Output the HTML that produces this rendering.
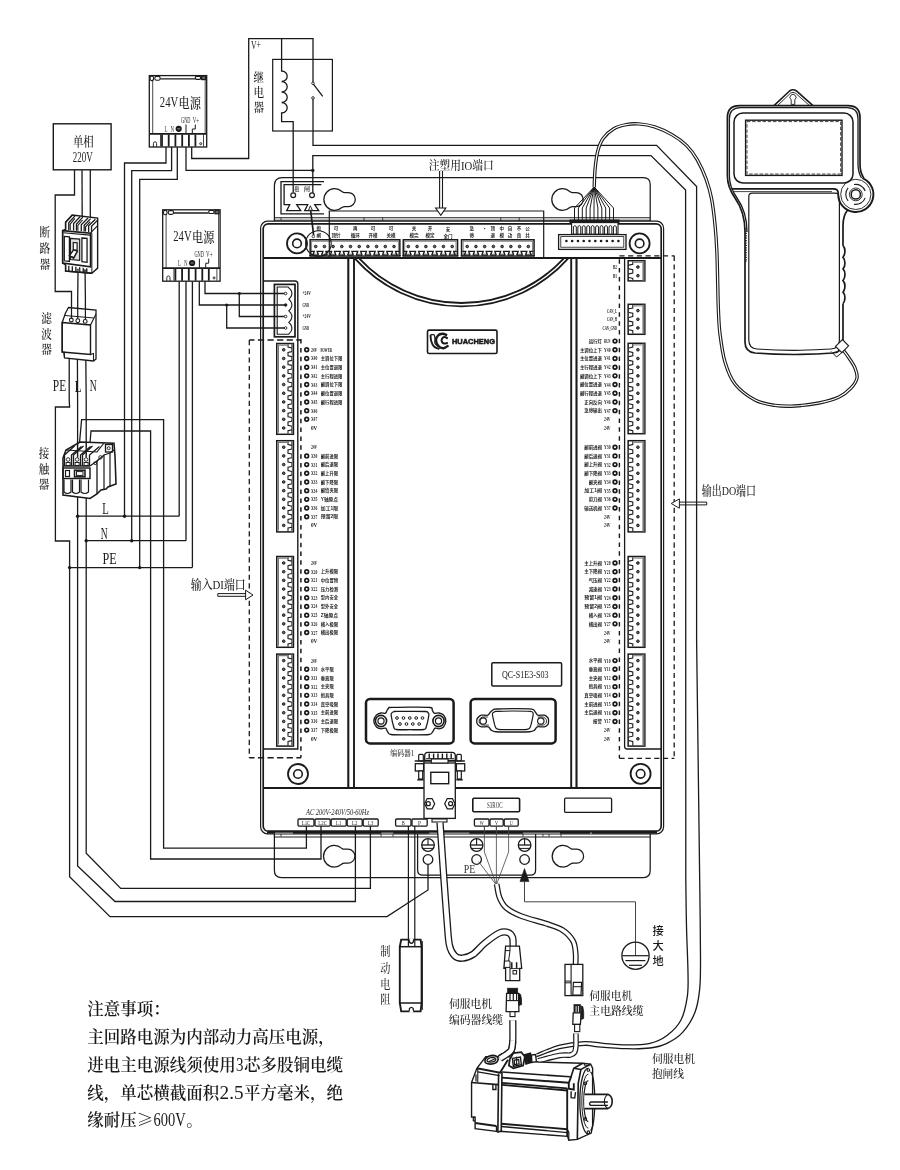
<!DOCTYPE html>
<html lang="zh"><head><meta charset="utf-8"><title>wiring</title>
<style>html,body{margin:0;padding:0;background:#fff}svg{display:block}</style></head>
<body>
<svg width="900" height="1170" viewBox="0 0 900 1170">
<rect width="900" height="1170" fill="#fff"/>
<g style="will-change:transform;filter:blur(0.3px)">
<rect x="53.3" y="123.8" width="57.8" height="46" rx="0" fill="none" stroke="#1a1a1a" stroke-width="1.4" />
<text x="83.3" y="145.9" font-size="12.6" font-family="'Liberation Serif','Noto Serif CJK SC',serif" fill="#1a1a1a" text-anchor="middle" textLength="20.8" lengthAdjust="spacingAndGlyphs" font-weight="500" >单相</text>
<text x="82.8" y="161.5" font-size="13.6" font-family="'Liberation Serif','Noto Serif CJK SC',serif" fill="#1a1a1a" text-anchor="middle" textLength="20" lengthAdjust="spacingAndGlyphs" font-weight="500" >220V</text>
<path d="M74.5 170 L74.5 195 L55.2 195 L55.2 291.5 L71.5 291.5 L71.5 318.5" fill="none" stroke="#1a1a1a" stroke-width="1.3" />
<path d="M82 170 L82.2 217.4" fill="none" stroke="#1a1a1a" stroke-width="1.3" />
<path d="M90.3 170 L90.3 218" fill="none" stroke="#1a1a1a" stroke-width="1.3" />
<path d="M78 271.8 L77.7 300 L77.7 318.5" fill="none" stroke="#1a1a1a" stroke-width="1.3" />
<path d="M85.1 272.4 L85.4 300 L85.4 318.5" fill="none" stroke="#1a1a1a" stroke-width="1.3" />
<path d="M69.2 357 L69.2 400 L69.6 407 L55.4 407 L55.4 541 L69.6 541 L69.6 876.7 L110 916.6 L387 916.6 L428 890 L428 864.6" fill="none" stroke="#1a1a1a" stroke-width="1.3" />
<path d="M77.4 357 L77.6 400 L77.6 866 L115 901.5 L355.4 901.5 L355.4 826" fill="none" stroke="#1a1a1a" stroke-width="1.3" />
<path d="M85.8 357 L86.2 400 L86.2 853.3 L120.7 888.4 L370.4 888.4 L370.4 826" fill="none" stroke="#1a1a1a" stroke-width="1.3" />
<path d="M77.6 516.2 L179.2 516.2" fill="none" stroke="#1a1a1a" stroke-width="1.3" />
<path d="M86.2 540.7 L186 540.7" fill="none" stroke="#1a1a1a" stroke-width="1.3" />
<path d="M69.6 567.6 L192.4 567.6" fill="none" stroke="#1a1a1a" stroke-width="1.3" />
<circle cx="77.6" cy="516.2" r="1.7" fill="#1a1a1a"/>
<circle cx="124.5" cy="516.2" r="1.7" fill="#1a1a1a"/>
<circle cx="86.2" cy="540.7" r="1.7" fill="#1a1a1a"/>
<circle cx="131.7" cy="540.7" r="1.7" fill="#1a1a1a"/>
<circle cx="69.6" cy="567.6" r="1.7" fill="#1a1a1a"/>
<circle cx="139.7" cy="567.6" r="1.7" fill="#1a1a1a"/>
<path d="M166 147 L166 163 L124.5 163 L124.5 516.2" fill="none" stroke="#1a1a1a" stroke-width="1.3" />
<path d="M171.6 147 L171.6 170.6 L131.7 170.6 L131.7 540.7" fill="none" stroke="#1a1a1a" stroke-width="1.3" />
<path d="M177.3 147 L177.3 179.4 L139.7 179.4 L139.7 567.6" fill="none" stroke="#1a1a1a" stroke-width="1.3" />
<path d="M179.2 281.5 L179.2 516.2" fill="none" stroke="#1a1a1a" stroke-width="1.3" />
<path d="M186 281.5 L186 540.7" fill="none" stroke="#1a1a1a" stroke-width="1.3" />
<path d="M192.4 281.5 L192.4 567.6" fill="none" stroke="#1a1a1a" stroke-width="1.3" />
<path d="M79.5 443 L81.6 419.6 L163.6 419.6 L163.6 848.2 L306.4 848.2 L306.4 826" fill="none" stroke="#1a1a1a" stroke-width="1.3" />
<path d="M90 443 L91 431 L150.6 431 L150.6 859 L321 859 L321 826" fill="none" stroke="#1a1a1a" stroke-width="1.3" />
<path d="M186 147 L186 170.4 L312.8 170.4" fill="none" stroke="#1a1a1a" stroke-width="1.3" />
<circle cx="312.8" cy="170.4" r="1.7" fill="#1a1a1a"/>
<path d="M191.7 147 L191.7 158.5 L248.7 158.5 L248.7 38.7 L313 38.7 L313 82" fill="none" stroke="#1a1a1a" stroke-width="1.3" />
<rect x="272.7" y="59.4" width="59.7" height="71.6" rx="0" fill="none" stroke="#1a1a1a" stroke-width="1.2" />
<path d="M281.6 38.7 L281.6 71 A5.6 5.25 0 0 1 281.6 81.5 A5.6 5.25 0 0 1 281.6 92 A5.6 5.25 0 0 1 281.6 102.5 A5.6 5.25 0 0 1 281.6 113 L281.6 121.7 L293.2 121.7 L293.2 192.5" fill="none" stroke="#1a1a1a" stroke-width="1.3" />
<circle cx="313" cy="83.3" r="1.3" fill="#fff" stroke="#1a1a1a" stroke-width="0.9" />
<circle cx="313" cy="98" r="1.3" fill="#fff" stroke="#1a1a1a" stroke-width="0.9" />
<path d="M313.6 84.3 L322.7 96.3" fill="none" stroke="#1a1a1a" stroke-width="1.3" />
<path d="M313 99.3 L313 145.3 L656.6 145.3 L696.6 186.6 L696.6 640 L699.7 880" fill="none" stroke="#1a1a1a" stroke-width="1.3" />
<path d="M699.7 880 C699.83 892.97 700.5 939.65 700.5 957.8 C700.5 975.95 700.62 979.83 699.7 988.9 C698.78 997.97 697.85 1004.95 695 1012.2 C692.15 1019.45 687.27 1027.22 682.6 1032.4 C677.93 1037.58 672.43 1040.7 667 1043.3 C661.57 1045.9 656.72 1047.1 650 1048 C643.28 1048.9 635.78 1048.93 626.7 1048.7 C617.62 1048.47 602.55 1047.17 595.5 1046.6 C588.45 1046.03 590.38 1044.95 584.4 1045.3 C578.42 1045.65 567.6 1046.8 559.6 1048.7 C551.6 1050.6 540.27 1055.37 536.4 1056.7" fill="none" stroke="#1a1a1a" stroke-width="1.3" />
<path d="M312.8 193 L312.8 155.6 L651 155.6 L685.6 190 L685.8 880" fill="none" stroke="#1a1a1a" stroke-width="1.3" />
<path d="M685.8 880 C685.92 887.78 686.13 911.15 686.5 926.7 C686.87 942.25 687.87 961.65 688 973.3 C688.13 984.95 688.47 988.82 687.3 996.6 C686.13 1004.38 684.38 1013.52 681 1020 C677.62 1026.48 672.17 1031.62 667 1035.5 C661.83 1039.38 656.72 1041.73 650 1043.3 C643.28 1044.87 634.48 1044.9 626.7 1044.9 C618.92 1044.9 610.35 1043.85 603.3 1043.3 C596.25 1042.75 591.68 1041.3 584.4 1041.6 C577.12 1041.9 567.6 1043.03 559.6 1045.1 C551.6 1047.17 540.27 1052.52 536.4 1054" fill="none" stroke="#1a1a1a" stroke-width="1.3" />
<text x="251" y="48.9" font-size="12.5" font-family="'Liberation Serif','Noto Serif CJK SC',serif" fill="#1a1a1a" textLength="10" lengthAdjust="spacingAndGlyphs" font-weight="500" >V+</text>
<text x="258.7" y="81.5" font-size="12.3" font-family="'Liberation Serif','Noto Serif CJK SC',serif" fill="#1a1a1a" text-anchor="middle" textLength="10.6" lengthAdjust="spacingAndGlyphs" font-weight="500" >继</text>
<text x="258.7" y="96.8" font-size="12.3" font-family="'Liberation Serif','Noto Serif CJK SC',serif" fill="#1a1a1a" text-anchor="middle" textLength="10.6" lengthAdjust="spacingAndGlyphs" font-weight="500" >电</text>
<text x="258.7" y="112.2" font-size="12.3" font-family="'Liberation Serif','Noto Serif CJK SC',serif" fill="#1a1a1a" text-anchor="middle" textLength="10.6" lengthAdjust="spacingAndGlyphs" font-weight="500" >器</text>
<text x="102.2" y="514.1" font-size="16.2" font-family="'Liberation Serif','Noto Serif CJK SC',serif" fill="#1a1a1a" textLength="6.5" lengthAdjust="spacingAndGlyphs" font-weight="500" >L</text>
<text x="100.8" y="538.8" font-size="16.2" font-family="'Liberation Serif','Noto Serif CJK SC',serif" fill="#1a1a1a" textLength="6.9" lengthAdjust="spacingAndGlyphs" font-weight="500" >N</text>
<text x="102.4" y="564.1" font-size="16.2" font-family="'Liberation Serif','Noto Serif CJK SC',serif" fill="#1a1a1a" textLength="14.2" lengthAdjust="spacingAndGlyphs" font-weight="500" >PE</text>
<text x="52.8" y="390.5" font-size="16.8" font-family="'Liberation Serif','Noto Serif CJK SC',serif" fill="#1a1a1a" textLength="13.4" lengthAdjust="spacingAndGlyphs" font-weight="500" >PE</text>
<text x="74.8" y="392" font-size="16.8" font-family="'Liberation Serif','Noto Serif CJK SC',serif" fill="#1a1a1a" textLength="6.9" lengthAdjust="spacingAndGlyphs" font-weight="500" >L</text>
<text x="89.8" y="390.5" font-size="16.8" font-family="'Liberation Serif','Noto Serif CJK SC',serif" fill="#1a1a1a" textLength="7" lengthAdjust="spacingAndGlyphs" font-weight="500" >N</text>
<text x="44.8" y="236.9" font-size="12.5" font-family="'Liberation Serif','Noto Serif CJK SC',serif" fill="#1a1a1a" text-anchor="middle" textLength="10.7" lengthAdjust="spacingAndGlyphs" font-weight="500" >断</text>
<text x="44.8" y="252.8" font-size="12.5" font-family="'Liberation Serif','Noto Serif CJK SC',serif" fill="#1a1a1a" text-anchor="middle" textLength="10.7" lengthAdjust="spacingAndGlyphs" font-weight="500" >路</text>
<text x="44.8" y="268.5" font-size="12.5" font-family="'Liberation Serif','Noto Serif CJK SC',serif" fill="#1a1a1a" text-anchor="middle" textLength="10.7" lengthAdjust="spacingAndGlyphs" font-weight="500" >器</text>
<text x="46.5" y="322.6" font-size="12.3" font-family="'Liberation Serif','Noto Serif CJK SC',serif" fill="#1a1a1a" text-anchor="middle" textLength="10.7" lengthAdjust="spacingAndGlyphs" font-weight="500" >滤</text>
<text x="46.5" y="338.6" font-size="12.3" font-family="'Liberation Serif','Noto Serif CJK SC',serif" fill="#1a1a1a" text-anchor="middle" textLength="10.7" lengthAdjust="spacingAndGlyphs" font-weight="500" >波</text>
<text x="46.5" y="353.6" font-size="12.3" font-family="'Liberation Serif','Noto Serif CJK SC',serif" fill="#1a1a1a" text-anchor="middle" textLength="10.7" lengthAdjust="spacingAndGlyphs" font-weight="500" >器</text>
<text x="44" y="457.5" font-size="12.5" font-family="'Liberation Serif','Noto Serif CJK SC',serif" fill="#1a1a1a" text-anchor="middle" textLength="10.5" lengthAdjust="spacingAndGlyphs" font-weight="500" >接</text>
<text x="44" y="473.5" font-size="12.5" font-family="'Liberation Serif','Noto Serif CJK SC',serif" fill="#1a1a1a" text-anchor="middle" textLength="10.5" lengthAdjust="spacingAndGlyphs" font-weight="500" >触</text>
<text x="44" y="488.5" font-size="12.5" font-family="'Liberation Serif','Noto Serif CJK SC',serif" fill="#1a1a1a" text-anchor="middle" textLength="10.5" lengthAdjust="spacingAndGlyphs" font-weight="500" >器</text>
<rect x="149.3" y="75.6" width="57.4" height="71.4" rx="0" fill="#fff" stroke="#1a1a1a" stroke-width="1.3" />
<path d="M152.7 79.5 L152.7 133.7" fill="none" stroke="#1a1a1a" stroke-width="0.8" />
<path d="M205.2 79.5 L205.2 133.7" fill="none" stroke="#1a1a1a" stroke-width="0.8" />
<path d="M160.4 78.8 L195 78.8" fill="none" stroke="#1a1a1a" stroke-width="1.3" />
<rect x="150.1" y="76.2" width="3.5" height="4.4" rx="1.5" fill="none" stroke="#1a1a1a" stroke-width="1.1" />
<rect x="154.8" y="76.4" width="5.4" height="3.8" rx="1.8" fill="none" stroke="#1a1a1a" stroke-width="1.1" />
<rect x="195.4" y="76.3" width="5.2" height="3" rx="1" fill="none" stroke="#1a1a1a" stroke-width="1.2" />
<rect x="201.6" y="76" width="4" height="3.6" rx="0" fill="#666" stroke="#1a1a1a" stroke-width="1.2" />
<path d="M149.3 133.9 L206.7 133.9" fill="none" stroke="#1a1a1a" stroke-width="1.6" />
<path d="M162 134.5 L162 146.5" fill="none" stroke="#1a1a1a" stroke-width="1.8" />
<path d="M168.7 134.5 L168.7 146.5" fill="none" stroke="#1a1a1a" stroke-width="1.8" />
<path d="M175.4 134.5 L175.4 146.5" fill="none" stroke="#1a1a1a" stroke-width="1.8" />
<path d="M182.2 134.5 L182.2 146.5" fill="none" stroke="#1a1a1a" stroke-width="1.8" />
<path d="M188.9 134.5 L188.9 146.5" fill="none" stroke="#1a1a1a" stroke-width="1.8" />
<path d="M195.4 134.5 L195.4 146.5" fill="none" stroke="#1a1a1a" stroke-width="1.8" />
<path d="M160.5 134.5 L160.5 146.5" fill="none" stroke="#1a1a1a" stroke-width="0.8" />
<path d="M203.5 134.5 L203.5 146.5" fill="none" stroke="#1a1a1a" stroke-width="0.8" />
<path d="M153.4 147 L153.4 143.4 a1.6 1.6 0 0 1 3.2 0 L156.6 147" fill="none" stroke="#1a1a1a" stroke-width="0.9" />
<circle cx="200.7" cy="143.7" r="1" fill="none" stroke="#1a1a1a" stroke-width="0.9" />
<text x="159.8" y="107" font-size="15.2" font-family="'Liberation Serif','Noto Serif CJK SC',serif" fill="#1a1a1a" textLength="18.4" lengthAdjust="spacingAndGlyphs" font-weight="500" >24V</text>
<text x="178.6" y="107.6" font-size="13.8" font-family="'Liberation Serif','Noto Serif CJK SC',serif" fill="#1a1a1a" textLength="22.4" lengthAdjust="spacingAndGlyphs" font-weight="500" >电源</text>
<text x="164.6" y="131.7" font-size="8" font-family="'Liberation Serif','Noto Serif CJK SC',serif" fill="#333" textLength="3" lengthAdjust="spacingAndGlyphs" font-weight="400" >L</text>
<text x="170.6" y="131.7" font-size="8" font-family="'Liberation Serif','Noto Serif CJK SC',serif" fill="#333" textLength="3.6" lengthAdjust="spacingAndGlyphs" font-weight="400" >N</text>
<circle cx="178.7" cy="128.8" r="3.1" fill="#1a1a1a" stroke="#1a1a1a" stroke-width="0" />
<path d="M177.2 128.8 L180.2 128.8" fill="none" stroke="#fff" stroke-width="0.5" />
<text x="181" y="123" font-size="8" font-family="'Liberation Serif','Noto Serif CJK SC',serif" fill="#1a1a1a" textLength="9.4" lengthAdjust="spacingAndGlyphs" >GND</text>
<text x="192.7" y="123" font-size="8" font-family="'Liberation Serif','Noto Serif CJK SC',serif" fill="#1a1a1a" textLength="6.4" lengthAdjust="spacingAndGlyphs" >V+</text>
<path d="M186 124.5 L186 133.7" fill="none" stroke="#1a1a1a" stroke-width="1" />
<path d="M195.3 124.5 L195.3 129 L192.3 129 L192.3 133.7" fill="none" stroke="#1a1a1a" stroke-width="1" />
<rect x="162.7" y="209.8" width="57.4" height="71.4" rx="0" fill="#fff" stroke="#1a1a1a" stroke-width="1.3" />
<path d="M166.1 213.7 L166.1 267.9" fill="none" stroke="#1a1a1a" stroke-width="0.8" />
<path d="M218.6 213.7 L218.6 267.9" fill="none" stroke="#1a1a1a" stroke-width="0.8" />
<path d="M173.8 213 L208.4 213" fill="none" stroke="#1a1a1a" stroke-width="1.3" />
<rect x="163.5" y="210.4" width="3.5" height="4.4" rx="1.5" fill="none" stroke="#1a1a1a" stroke-width="1.1" />
<rect x="168.2" y="210.6" width="5.4" height="3.8" rx="1.8" fill="none" stroke="#1a1a1a" stroke-width="1.1" />
<rect x="208.8" y="210.5" width="5.2" height="3" rx="1" fill="none" stroke="#1a1a1a" stroke-width="1.2" />
<rect x="215" y="210.2" width="4" height="3.6" rx="0" fill="#666" stroke="#1a1a1a" stroke-width="1.2" />
<path d="M162.7 268.1 L220.1 268.1" fill="none" stroke="#1a1a1a" stroke-width="1.6" />
<path d="M175.4 268.7 L175.4 280.7" fill="none" stroke="#1a1a1a" stroke-width="1.8" />
<path d="M182.1 268.7 L182.1 280.7" fill="none" stroke="#1a1a1a" stroke-width="1.8" />
<path d="M188.8 268.7 L188.8 280.7" fill="none" stroke="#1a1a1a" stroke-width="1.8" />
<path d="M195.6 268.7 L195.6 280.7" fill="none" stroke="#1a1a1a" stroke-width="1.8" />
<path d="M202.3 268.7 L202.3 280.7" fill="none" stroke="#1a1a1a" stroke-width="1.8" />
<path d="M208.8 268.7 L208.8 280.7" fill="none" stroke="#1a1a1a" stroke-width="1.8" />
<path d="M173.9 268.7 L173.9 280.7" fill="none" stroke="#1a1a1a" stroke-width="0.8" />
<path d="M216.9 268.7 L216.9 280.7" fill="none" stroke="#1a1a1a" stroke-width="0.8" />
<path d="M166.8 281.2 L166.8 277.6 a1.6 1.6 0 0 1 3.2 0 L170 281.2" fill="none" stroke="#1a1a1a" stroke-width="0.9" />
<circle cx="214.1" cy="277.9" r="1" fill="none" stroke="#1a1a1a" stroke-width="0.9" />
<text x="173.2" y="241.2" font-size="15.2" font-family="'Liberation Serif','Noto Serif CJK SC',serif" fill="#1a1a1a" textLength="18.4" lengthAdjust="spacingAndGlyphs" font-weight="500" >24V</text>
<text x="192" y="241.8" font-size="13.8" font-family="'Liberation Serif','Noto Serif CJK SC',serif" fill="#1a1a1a" textLength="22.4" lengthAdjust="spacingAndGlyphs" font-weight="500" >电源</text>
<text x="178" y="265.9" font-size="8" font-family="'Liberation Serif','Noto Serif CJK SC',serif" fill="#333" textLength="3" lengthAdjust="spacingAndGlyphs" font-weight="400" >L</text>
<text x="184" y="265.9" font-size="8" font-family="'Liberation Serif','Noto Serif CJK SC',serif" fill="#333" textLength="3.6" lengthAdjust="spacingAndGlyphs" font-weight="400" >N</text>
<circle cx="192.1" cy="263" r="3.1" fill="#1a1a1a" stroke="#1a1a1a" stroke-width="0" />
<path d="M190.6 263 L193.6 263" fill="none" stroke="#fff" stroke-width="0.5" />
<text x="194.4" y="257.2" font-size="8" font-family="'Liberation Serif','Noto Serif CJK SC',serif" fill="#1a1a1a" textLength="9.4" lengthAdjust="spacingAndGlyphs" >GND</text>
<text x="206.1" y="257.2" font-size="8" font-family="'Liberation Serif','Noto Serif CJK SC',serif" fill="#1a1a1a" textLength="6.4" lengthAdjust="spacingAndGlyphs" >V+</text>
<path d="M199.4 258.7 L199.4 267.9" fill="none" stroke="#1a1a1a" stroke-width="1" />
<path d="M208.7 258.7 L208.7 263.2 L205.7 263.2 L205.7 267.9" fill="none" stroke="#1a1a1a" stroke-width="1" />
<path d="M62.69 230.64 L65.58 229.36 L65.58 222.31 L72.31 214.94 L97.63 218.14 L97.63 268.14 L91.86 273.27 L65.58 271.03 L65.58 264.94 L62.69 263.01 Z" fill="#fff" stroke="#1a1a1a" stroke-width="1.4" />
<path d="M65.58 229.68 L65.58 222.31 L72.31 214.94" fill="none" stroke="#1a1a1a" stroke-width="1.3" />
<path d="M68.78 229.94 L68.78 222.69 L75.19 215.58" fill="none" stroke="#1a1a1a" stroke-width="1.3" />
<path d="M70.19 229.94 L70.19 224.23 L74.87 218.46" fill="none" stroke="#1a1a1a" stroke-width="1.1" />
<path d="M73.59 230.45 L73.59 223.59 L80.32 216.47" fill="none" stroke="#1a1a1a" stroke-width="1.3" />
<path d="M76.47 230.71 L76.47 223.97 L82.88 217.12" fill="none" stroke="#1a1a1a" stroke-width="1.3" />
<path d="M77.88 230.71 L77.88 225.51 L82.56 220" fill="none" stroke="#1a1a1a" stroke-width="1.1" />
<path d="M81.28 231.22 L81.28 224.87 L88.01 218.01" fill="none" stroke="#1a1a1a" stroke-width="1.3" />
<path d="M84.17 231.47 L84.17 225.26 L90.58 218.65" fill="none" stroke="#1a1a1a" stroke-width="1.3" />
<path d="M85.58 231.47 L85.58 226.79 L90.26 221.54" fill="none" stroke="#1a1a1a" stroke-width="1.1" />
<path d="M88.65 231.99 L88.65 225.83 L95.38 219.23" fill="none" stroke="#1a1a1a" stroke-width="1.3" />
<path d="M91.54 232.24 L91.54 226.22 L97.95 219.87" fill="none" stroke="#1a1a1a" stroke-width="1.3" />
<path d="M91.54 231.92 L97.63 225.51" fill="none" stroke="#1a1a1a" stroke-width="1.1" />
<path d="M91.86 233.21 L91.86 272.95" fill="none" stroke="#1a1a1a" stroke-width="1" />
<path d="M62.69 230.64 L90.58 233.21 L90.58 266.86 L62.69 263.01 Z" fill="#fff" stroke="#1a1a1a" stroke-width="1.7" />
<path d="M63.33 232.69 L90.13 235.13" fill="none" stroke="#1a1a1a" stroke-width="1.1" />
<path d="M90.58 233.21 L91.86 231.92" fill="none" stroke="#1a1a1a" stroke-width="1.1" />
<path d="M64.29 236.41 L69.42 236.86 L69.42 261.41 L64.29 260.77 Z" fill="none" stroke="#1a1a1a" stroke-width="1.3" />
<path d="M81.92 238.01 L87.05 238.46 L87.05 262.37 L81.92 261.73 Z" fill="none" stroke="#1a1a1a" stroke-width="1.3" />
<path d="M70.38 238.33 L79.68 239.17 L79.68 260.45 L70.38 259.49 Z" fill="#ddd" stroke="#1a1a1a" stroke-width="1.2" />
<path d="M73.27 242.5 L77.12 242.82 L77.12 250.19 L73.27 249.87 Z" fill="#fff" stroke="#1a1a1a" stroke-width="1.2" />
<path d="M69.42 255.64 L73.59 249.87 L77.44 251.15 L73.59 258.21 Z" fill="#fff" stroke="#1a1a1a" stroke-width="1.5" />
<path d="M70.38 256.28 L74.23 257.44" fill="none" stroke="#1a1a1a" stroke-width="0.9" />
<path d="M65.58 264.94 L65.58 271.03 L91.86 273.27" fill="none" stroke="#1a1a1a" stroke-width="1.3" />
<path d="M68.78 265.79 L68.78 271.3" fill="none" stroke="#1a1a1a" stroke-width="1.3" />
<path d="M72.31 266.28 L72.31 271.6" fill="none" stroke="#1a1a1a" stroke-width="1.3" />
<path d="M75.83 266.78 L75.83 271.9" fill="none" stroke="#1a1a1a" stroke-width="1.3" />
<path d="M79.68 267.31 L79.68 272.22" fill="none" stroke="#1a1a1a" stroke-width="1.3" />
<path d="M83.21 267.81 L83.21 272.52" fill="none" stroke="#1a1a1a" stroke-width="1.3" />
<path d="M86.73 268.3 L86.73 272.82" fill="none" stroke="#1a1a1a" stroke-width="1.3" />
<path d="M77.12 269.1 L79.68 269.36 L79.68 271.67 L77.12 271.41 Z" fill="#888" stroke="#1a1a1a" stroke-width="0.6" />
<path d="M84.17 269.74 L86.73 270 L86.73 272.44 L84.17 272.18 Z" fill="#555" stroke="#1a1a1a" stroke-width="0.6" />
<path d="M62.2 322.5 L65.5 313 L68.5 307.5 L96 310 L96 359 L93.5 361 L64.5 357.8 L64 352.2 L62.2 352 Z" fill="#fff" stroke="#1a1a1a" stroke-width="1.3" />
<path d="M65 315.5 L94 318 L96 314" fill="none" stroke="#1a1a1a" stroke-width="1.1" />
<path d="M62.2 322.5 L90.5 325 L90.5 354.5 L62.2 352 Z" fill="none" stroke="#1a1a1a" stroke-width="1.4" />
<path d="M90.5 325 L94 318" fill="none" stroke="#1a1a1a" stroke-width="1.1" />
<path d="M64 352.2 L64.5 357.6" fill="none" stroke="#1a1a1a" stroke-width="1.1" />
<path d="M90.5 354.5 L93.5 353.5 L93.5 361" fill="none" stroke="#1a1a1a" stroke-width="1.1" />
<circle cx="71.3" cy="320" r="1.9" fill="#fff" stroke="#1a1a1a" stroke-width="1.1" />
<circle cx="77.8" cy="320.7" r="1.9" fill="#fff" stroke="#1a1a1a" stroke-width="1.1" />
<circle cx="85.2" cy="321.4" r="1.9" fill="#fff" stroke="#1a1a1a" stroke-width="1.1" />
<path d="M71.5 308 L71.5 318.2" fill="none" stroke="#1a1a1a" stroke-width="1.2" />
<path d="M77.7 308.5 L77.7 318.9" fill="none" stroke="#1a1a1a" stroke-width="1.2" />
<path d="M85.4 309.2 L85.4 319.6" fill="none" stroke="#1a1a1a" stroke-width="1.2" />
<path d="M63 458 L66 450 L80 442 L114 443.2 L115 456 L116 484 L108 487 L106 489 L101 490 L97 494 L90 498.5 L63 495 Z" fill="#fff" stroke="#1a1a1a" stroke-width="1.56" />
<rect x="63" y="468" width="27" height="10.5" rx="0" fill="none" stroke="#1a1a1a" stroke-width="1.44" />
<path d="M63 466 L90 466" fill="none" stroke="#1a1a1a" stroke-width="1.44" />
<rect x="65.5" y="470.5" width="4" height="6" rx="0" fill="none" stroke="#1a1a1a" stroke-width="1.2" />
<rect x="74.5" y="470.2" width="10.5" height="6.6" rx="0" fill="none" stroke="#1a1a1a" stroke-width="1.56" />
<rect x="76.5" y="471.6" width="6.5" height="3.8" rx="0" fill="none" stroke="#1a1a1a" stroke-width="0.96" />
<path d="M64 479.5 L64 492 Q67.5 495 71 492 L71 479.5" fill="none" stroke="#1a1a1a" stroke-width="1.2" />
<path d="M72.5 479.5 L72.5 492 Q76 495 79.5 492 L79.5 479.5" fill="none" stroke="#1a1a1a" stroke-width="1.2" />
<path d="M81 479.5 L81 492 Q84.75 495 88.5 492 L88.5 479.5" fill="none" stroke="#1a1a1a" stroke-width="1.2" />
<path d="M64.5 466 L64.5 455 L74.5 446" fill="none" stroke="#1a1a1a" stroke-width="1.32" />
<path d="M71.5 466 L71.5 455 L81.5 446.5" fill="none" stroke="#1a1a1a" stroke-width="1.32" />
<circle cx="68.1" cy="459.5" r="1.8" fill="none" stroke="#1a1a1a" stroke-width="0.9" />
<rect x="66.1" y="462.5" width="4" height="3" rx="0" fill="none" stroke="#1a1a1a" stroke-width="0.96" />
<path d="M73.5 466 L73.5 455 L83.5 446" fill="none" stroke="#1a1a1a" stroke-width="1.32" />
<path d="M80.5 466 L80.5 455 L90.5 446.5" fill="none" stroke="#1a1a1a" stroke-width="1.32" />
<circle cx="77.1" cy="459.5" r="1.8" fill="none" stroke="#1a1a1a" stroke-width="0.9" />
<rect x="75.1" y="462.5" width="4" height="3" rx="0" fill="none" stroke="#1a1a1a" stroke-width="0.96" />
<path d="M82.5 466 L82.5 455 L92.5 446" fill="none" stroke="#1a1a1a" stroke-width="1.32" />
<path d="M89.5 466 L89.5 455 L99.5 446.5" fill="none" stroke="#1a1a1a" stroke-width="1.32" />
<circle cx="86.1" cy="459.5" r="1.8" fill="none" stroke="#1a1a1a" stroke-width="0.9" />
<rect x="84.1" y="462.5" width="4" height="3" rx="0" fill="none" stroke="#1a1a1a" stroke-width="0.96" />
<path d="M66 450 L97 452 L104 443" fill="none" stroke="#1a1a1a" stroke-width="1.2" />
<path d="M90 466 L97 461 L97 494" fill="none" stroke="#1a1a1a" stroke-width="1.32" />
<path d="M97 461 L104 455 L104 489" fill="none" stroke="#1a1a1a" stroke-width="1.2" />
<path d="M104 455 L110 453 L114 450" fill="none" stroke="#1a1a1a" stroke-width="1.2" />
<path d="M110 453 L110 486.5" fill="none" stroke="#1a1a1a" stroke-width="1.2" />
<rect x="105.5" y="444.5" width="7" height="7.5" rx="0" fill="none" stroke="#1a1a1a" stroke-width="1.32" />
<circle cx="108.7" cy="448.2" r="1.5" fill="none" stroke="#1a1a1a" stroke-width="0.9" />
<circle cx="100.5" cy="457.3" r="1.7" fill="none" stroke="#1a1a1a" stroke-width="0.9" />
<circle cx="95.2" cy="463.2" r="1.4" fill="none" stroke="#1a1a1a" stroke-width="0.9" />
<path d="M96.2 462.2 L99.3 458.5" fill="none" stroke="#1a1a1a" stroke-width="1.08" />
<path d="M77.6 441.5 L77.6 457.5" fill="none" stroke="#1a1a1a" stroke-width="1.44" />
<path d="M86.2 442 L86.2 457.5" fill="none" stroke="#1a1a1a" stroke-width="1.44" />
<path d="M274.4 222 L274.4 185.5 Q274.4 177.6 282.4 177.6 L643.4 177.6 Q650.2 177.6 650.2 184.6 L650.2 221" fill="none" stroke="#1a1a1a" stroke-width="1.25" />
<path d="M274.4 833 L274.4 870.5 Q274.4 877.6 281.5 877.6 L643.4 877.6 Q650.2 877.6 650.2 870.5 L650.2 833" fill="none" stroke="#1a1a1a" stroke-width="1.25" />
<path d="M341.9 191.45 A10.8 10.8 0 1 0 341.9 207.55 Q343.3 206.5 344.9 206.5 L348.3 206.5 A7 7 0 0 0 348.3 192.5 L344.9 192.5 Q343.3 192.5 341.9 191.45 Z" fill="#fff" stroke="#1a1a1a" stroke-width="1.25" />
<path d="M569.8 191.45 A10.8 10.8 0 1 0 569.8 207.55 Q571.2 206.5 572.8 206.5 L576.2 206.5 A7 7 0 0 0 576.2 192.5 L572.8 192.5 Q571.2 192.5 569.8 191.45 Z" fill="#fff" stroke="#1a1a1a" stroke-width="1.25" />
<path d="M341.5 848.15 A10.8 10.8 0 1 0 341.5 864.25 Q342.9 863.2 344.5 863.2 L347.9 863.2 A7 7 0 0 0 347.9 849.2 L344.5 849.2 Q342.9 849.2 341.5 848.15 Z" fill="#fff" stroke="#1a1a1a" stroke-width="1.25" />
<path d="M570.2 848.15 A10.8 10.8 0 1 0 570.2 864.25 Q571.6 863.2 573.2 863.2 L576.6 863.2 A7 7 0 0 0 576.6 849.2 L573.2 849.2 Q571.6 849.2 570.2 848.15 Z" fill="#fff" stroke="#1a1a1a" stroke-width="1.25" />
<path d="M324 181.6 L281 181.6 L281 213.8 L324 213.8" fill="none" stroke="#1a1a1a" stroke-width="1.3" />
<path d="M321.4 184.7 L284.1 184.7 L284.1 204.7 L289.7 204.7 L286.7 210.7 L300.7 210.7 L296.7 204.7 L307.7 204.7 L304.7 210.7 L318.7 210.7 L314.7 204.7 L321.4 204.7" fill="none" stroke="#1a1a1a" stroke-width="1.3" />
<circle cx="293.2" cy="195.2" r="2.4" fill="#fff" stroke="#1a1a1a" stroke-width="1.2" />
<circle cx="312" cy="195.2" r="2.4" fill="#fff" stroke="#1a1a1a" stroke-width="1.2" />
<text x="294.2" y="191.4" font-size="6.2" font-family="'Liberation Serif','Noto Serif CJK SC',serif" fill="#222" textLength="5" lengthAdjust="spacingAndGlyphs" font-weight="600" >抱</text>
<text x="304" y="191.4" font-size="6.2" font-family="'Liberation Serif','Noto Serif CJK SC',serif" fill="#222" textLength="6" lengthAdjust="spacingAndGlyphs" font-weight="600" >闸</text>
<path d="M274.4 220.2 L650.2 220.2" fill="none" stroke="#1a1a1a" stroke-width="0.9" />
<path d="M281 217.8 L281 220.3" fill="none" stroke="#1a1a1a" stroke-width="0.8" />
<path d="M417.6 834 L417.6 870 Q417.6 875.2 423 875.2 L530.4 875.2 Q535.6 875.2 535.6 870 L535.6 834" fill="none" stroke="#1a1a1a" stroke-width="1.25" />
<circle cx="428" cy="845" r="6.3" fill="#fff" stroke="#1a1a1a" stroke-width="1.3" />
<path d="M421.8 845 L434.2 845" fill="none" stroke="#1a1a1a" stroke-width="1.3" />
<path d="M422.6 848.4 L433.4 848.4" fill="none" stroke="#1a1a1a" stroke-width="1" />
<path d="M428 838.8 L428 845" fill="none" stroke="#1a1a1a" stroke-width="1.1" />
<circle cx="428" cy="859.5" r="4.8" fill="#fff" stroke="#1a1a1a" stroke-width="1.3" />
<circle cx="476.6" cy="845" r="6.3" fill="#fff" stroke="#1a1a1a" stroke-width="1.3" />
<path d="M470.4 845 L482.8 845" fill="none" stroke="#1a1a1a" stroke-width="1.3" />
<path d="M471.2 848.4 L482 848.4" fill="none" stroke="#1a1a1a" stroke-width="1" />
<path d="M476.6 838.8 L476.6 845" fill="none" stroke="#1a1a1a" stroke-width="1.1" />
<circle cx="476.6" cy="859.5" r="4.8" fill="#fff" stroke="#1a1a1a" stroke-width="1.3" />
<circle cx="524.6" cy="845" r="6.3" fill="#fff" stroke="#1a1a1a" stroke-width="1.3" />
<path d="M518.4 845 L530.8 845" fill="none" stroke="#1a1a1a" stroke-width="1.3" />
<path d="M519.2 848.4 L530 848.4" fill="none" stroke="#1a1a1a" stroke-width="1" />
<path d="M524.6 838.8 L524.6 845" fill="none" stroke="#1a1a1a" stroke-width="1.1" />
<circle cx="524.6" cy="859.5" r="4.8" fill="#fff" stroke="#1a1a1a" stroke-width="1.3" />
<text x="463.8" y="873.2" font-size="12.5" font-family="'Liberation Serif','Noto Serif CJK SC',serif" fill="#333" textLength="11.5" lengthAdjust="spacingAndGlyphs" font-weight="500" >PE</text>
<rect x="260.6" y="221.2" width="403" height="612.6" rx="7" fill="#fff" stroke="#1a1a1a" stroke-width="1.2" />
<rect x="263.2" y="223.8" width="398" height="607.4" rx="5" fill="none" stroke="#1a1a1a" stroke-width="1.7" />
<path d="M267 832.6 L657 832.6" fill="none" stroke="#1a1a1a" stroke-width="1.6" />
<path d="M275 833.1 L293 833.1" fill="none" stroke="#fff" stroke-width="0.7" />
<path d="M381.3 833.1 L393.3 833.1" fill="none" stroke="#fff" stroke-width="0.7" />
<path d="M429.3 833.1 L469.3 833.1" fill="none" stroke="#fff" stroke-width="0.7" />
<path d="M523 833.1 L560 833.1" fill="none" stroke="#fff" stroke-width="0.7" />
<path d="M590 833.1 L592 833.1" fill="none" stroke="#fff" stroke-width="0.7" />
<path d="M274.4 217.8 L650.2 217.8" fill="none" stroke="#1a1a1a" stroke-width="1.1" />
<path d="M364 217.6 L364 221" fill="none" stroke="#1a1a1a" stroke-width="0.8" />
<path d="M382.7 217.6 L382.7 221" fill="none" stroke="#1a1a1a" stroke-width="0.8" />
<path d="M500.8 217.6 L500.8 221" fill="none" stroke="#1a1a1a" stroke-width="0.8" />
<path d="M519.2 217.6 L519.2 221" fill="none" stroke="#1a1a1a" stroke-width="0.8" />
<path d="M274.4 837 L650.2 837" fill="none" stroke="#1a1a1a" stroke-width="1" />
<path d="M274.4 834 L274.4 836.6" fill="none" stroke="#1a1a1a" stroke-width="0.8" />
<path d="M281 834 L281 836.6" fill="none" stroke="#1a1a1a" stroke-width="0.8" />
<path d="M381 834 L381 836.6" fill="none" stroke="#1a1a1a" stroke-width="0.8" />
<path d="M393 834 L393 836.6" fill="none" stroke="#1a1a1a" stroke-width="0.8" />
<path d="M523 834 L523 836.6" fill="none" stroke="#1a1a1a" stroke-width="0.8" />
<path d="M561 834 L561 836.6" fill="none" stroke="#1a1a1a" stroke-width="0.8" />
<path d="M543 834 L543 836.6" fill="none" stroke="#1a1a1a" stroke-width="0.8" />
<path d="M549 834 L549 836.6" fill="none" stroke="#1a1a1a" stroke-width="0.8" />
<path d="M263.2 258 L661.2 258" fill="none" stroke="#1a1a1a" stroke-width="1.8" />
<path d="M263.2 788 L661.2 788" fill="none" stroke="#1a1a1a" stroke-width="1.8" />
<path d="M348.3 258 L348.3 788" fill="none" stroke="#1a1a1a" stroke-width="2.1" />
<path d="M354 258 L354 788" fill="none" stroke="#1a1a1a" stroke-width="1.9" />
<path d="M571.2 258 L571.2 788" fill="none" stroke="#1a1a1a" stroke-width="1.9" />
<path d="M576.5 258 L576.5 788" fill="none" stroke="#1a1a1a" stroke-width="2.1" />
<path d="M355 258.6 A142.5 142.5 0 0 0 568 258.6" fill="none" stroke="#1a1a1a" stroke-width="1.8" />
<path d="M359.4 258.6 A139.6 139.6 0 0 0 563.6 258.6" fill="none" stroke="#1a1a1a" stroke-width="1.8" />
<circle cx="297" cy="243.4" r="10" fill="#fff" stroke="#1a1a1a" stroke-width="1.8" />
<circle cx="297" cy="243.4" r="4.3" fill="none" stroke="#1a1a1a" stroke-width="1.6" />
<circle cx="639.6" cy="243.4" r="10" fill="#fff" stroke="#1a1a1a" stroke-width="1.8" />
<circle cx="639.6" cy="243.4" r="4.3" fill="none" stroke="#1a1a1a" stroke-width="1.6" />
<circle cx="298" cy="774" r="10" fill="#fff" stroke="#1a1a1a" stroke-width="1.8" />
<circle cx="298" cy="774" r="4.3" fill="none" stroke="#1a1a1a" stroke-width="1.6" />
<circle cx="640.6" cy="773.8" r="10" fill="#fff" stroke="#1a1a1a" stroke-width="1.8" />
<circle cx="640.6" cy="773.8" r="4.3" fill="none" stroke="#1a1a1a" stroke-width="1.6" />
<rect x="310.15" y="239.75" width="89.7" height="16.05" rx="0" fill="#fff" stroke="#1a1a1a" stroke-width="1.5" />
<rect x="311.7" y="241.2" width="86.6" height="14" rx="0" fill="none" stroke="#555" stroke-width="0.7" />
<path d="M309.4 255.85 L400.6 255.85" fill="none" stroke="#1a1a1a" stroke-width="1.5" />
<path d="M310.9 254.5 L399.1 254.5" fill="none" stroke="#777" stroke-width="1.4" />
<circle cx="315.7" cy="246.5" r="1.3" fill="#666" stroke="#1a1a1a" stroke-width="1" />
<circle cx="324.4" cy="246.5" r="1.3" fill="#666" stroke="#1a1a1a" stroke-width="1" />
<circle cx="333.1" cy="246.5" r="1.3" fill="#666" stroke="#1a1a1a" stroke-width="1" />
<circle cx="341.8" cy="246.5" r="1.3" fill="#666" stroke="#1a1a1a" stroke-width="1" />
<circle cx="350.5" cy="246.5" r="1.3" fill="#666" stroke="#1a1a1a" stroke-width="1" />
<circle cx="359.2" cy="246.5" r="1.3" fill="#666" stroke="#1a1a1a" stroke-width="1" />
<circle cx="367.9" cy="246.5" r="1.3" fill="#666" stroke="#1a1a1a" stroke-width="1" />
<circle cx="376.6" cy="246.5" r="1.3" fill="#666" stroke="#1a1a1a" stroke-width="1" />
<circle cx="385.3" cy="246.5" r="1.3" fill="#666" stroke="#1a1a1a" stroke-width="1" />
<circle cx="394" cy="246.5" r="1.3" fill="#666" stroke="#1a1a1a" stroke-width="1" />
<path d="M310.9 251.4 L314.2 251.4 L312.85 255.3" fill="none" stroke="#1a1a1a" stroke-width="1.4" />
<path d="M318.55 255.3 L317.2 251.4 L322.9 251.4 L321.55 255.3" fill="#fff" stroke="#1a1a1a" stroke-width="1.4" />
<path d="M327.25 255.3 L325.9 251.4 L331.6 251.4 L330.25 255.3" fill="#fff" stroke="#1a1a1a" stroke-width="1.4" />
<path d="M335.95 255.3 L334.6 251.4 L340.3 251.4 L338.95 255.3" fill="#fff" stroke="#1a1a1a" stroke-width="1.4" />
<path d="M344.65 255.3 L343.3 251.4 L349 251.4 L347.65 255.3" fill="#fff" stroke="#1a1a1a" stroke-width="1.4" />
<path d="M353.35 255.3 L352 251.4 L357.7 251.4 L356.35 255.3" fill="#fff" stroke="#1a1a1a" stroke-width="1.4" />
<path d="M362.05 255.3 L360.7 251.4 L366.4 251.4 L365.05 255.3" fill="#fff" stroke="#1a1a1a" stroke-width="1.4" />
<path d="M370.75 255.3 L369.4 251.4 L375.1 251.4 L373.75 255.3" fill="#fff" stroke="#1a1a1a" stroke-width="1.4" />
<path d="M379.45 255.3 L378.1 251.4 L383.8 251.4 L382.45 255.3" fill="#fff" stroke="#1a1a1a" stroke-width="1.4" />
<path d="M388.15 255.3 L386.8 251.4 L392.5 251.4 L391.15 255.3" fill="#fff" stroke="#1a1a1a" stroke-width="1.4" />
<path d="M396.85 255.3 L395.5 251.4 L399.1 251.4" fill="none" stroke="#1a1a1a" stroke-width="1.4" />
<rect x="403.25" y="239.75" width="54.3" height="16.05" rx="0" fill="#fff" stroke="#1a1a1a" stroke-width="1.5" />
<rect x="404.8" y="241.2" width="51.2" height="14" rx="0" fill="none" stroke="#555" stroke-width="0.7" />
<path d="M402.5 255.85 L458.3 255.85" fill="none" stroke="#1a1a1a" stroke-width="1.5" />
<path d="M404 254.5 L456.8 254.5" fill="none" stroke="#777" stroke-width="1.4" />
<circle cx="408.3" cy="246.5" r="1.3" fill="#666" stroke="#1a1a1a" stroke-width="1" />
<circle cx="417.08" cy="246.5" r="1.3" fill="#666" stroke="#1a1a1a" stroke-width="1" />
<circle cx="425.86" cy="246.5" r="1.3" fill="#666" stroke="#1a1a1a" stroke-width="1" />
<circle cx="434.64" cy="246.5" r="1.3" fill="#666" stroke="#1a1a1a" stroke-width="1" />
<circle cx="443.42" cy="246.5" r="1.3" fill="#666" stroke="#1a1a1a" stroke-width="1" />
<circle cx="452.2" cy="246.5" r="1.3" fill="#666" stroke="#1a1a1a" stroke-width="1" />
<path d="M404 251.4 L406.76 251.4 L405.41 255.3" fill="none" stroke="#1a1a1a" stroke-width="1.4" />
<path d="M411.19 255.3 L409.84 251.4 L415.54 251.4 L414.19 255.3" fill="#fff" stroke="#1a1a1a" stroke-width="1.4" />
<path d="M419.97 255.3 L418.62 251.4 L424.32 251.4 L422.97 255.3" fill="#fff" stroke="#1a1a1a" stroke-width="1.4" />
<path d="M428.75 255.3 L427.4 251.4 L433.1 251.4 L431.75 255.3" fill="#fff" stroke="#1a1a1a" stroke-width="1.4" />
<path d="M437.53 255.3 L436.18 251.4 L441.88 251.4 L440.53 255.3" fill="#fff" stroke="#1a1a1a" stroke-width="1.4" />
<path d="M446.31 255.3 L444.96 251.4 L450.66 251.4 L449.31 255.3" fill="#fff" stroke="#1a1a1a" stroke-width="1.4" />
<path d="M455.09 255.3 L453.74 251.4 L456.8 251.4" fill="none" stroke="#1a1a1a" stroke-width="1.4" />
<rect x="461.55" y="239.75" width="72.5" height="16.05" rx="0" fill="#fff" stroke="#1a1a1a" stroke-width="1.5" />
<rect x="463.1" y="241.2" width="69.4" height="14" rx="0" fill="none" stroke="#555" stroke-width="0.7" />
<path d="M460.8 255.85 L534.8 255.85" fill="none" stroke="#1a1a1a" stroke-width="1.5" />
<path d="M462.3 254.5 L533.3 254.5" fill="none" stroke="#777" stroke-width="1.4" />
<circle cx="467.2" cy="246.5" r="1.3" fill="#666" stroke="#1a1a1a" stroke-width="1" />
<circle cx="475.93" cy="246.5" r="1.3" fill="#666" stroke="#1a1a1a" stroke-width="1" />
<circle cx="484.66" cy="246.5" r="1.3" fill="#666" stroke="#1a1a1a" stroke-width="1" />
<circle cx="493.39" cy="246.5" r="1.3" fill="#666" stroke="#1a1a1a" stroke-width="1" />
<circle cx="502.12" cy="246.5" r="1.3" fill="#666" stroke="#1a1a1a" stroke-width="1" />
<circle cx="510.85" cy="246.5" r="1.3" fill="#666" stroke="#1a1a1a" stroke-width="1" />
<circle cx="519.58" cy="246.5" r="1.3" fill="#666" stroke="#1a1a1a" stroke-width="1" />
<circle cx="528.31" cy="246.5" r="1.3" fill="#666" stroke="#1a1a1a" stroke-width="1" />
<path d="M462.3 251.4 L465.69 251.4 L464.33 255.3" fill="none" stroke="#1a1a1a" stroke-width="1.4" />
<path d="M470.06 255.3 L468.71 251.4 L474.42 251.4 L473.06 255.3" fill="#fff" stroke="#1a1a1a" stroke-width="1.4" />
<path d="M478.8 255.3 L477.44 251.4 L483.15 251.4 L481.8 255.3" fill="#fff" stroke="#1a1a1a" stroke-width="1.4" />
<path d="M487.52 255.3 L486.17 251.4 L491.88 251.4 L490.52 255.3" fill="#fff" stroke="#1a1a1a" stroke-width="1.4" />
<path d="M496.25 255.3 L494.9 251.4 L500.61 251.4 L499.25 255.3" fill="#fff" stroke="#1a1a1a" stroke-width="1.4" />
<path d="M504.99 255.3 L503.63 251.4 L509.34 251.4 L507.99 255.3" fill="#fff" stroke="#1a1a1a" stroke-width="1.4" />
<path d="M513.72 255.3 L512.37 251.4 L518.07 251.4 L516.72 255.3" fill="#fff" stroke="#1a1a1a" stroke-width="1.4" />
<path d="M522.45 255.3 L521.1 251.4 L526.8 251.4 L525.45 255.3" fill="#fff" stroke="#1a1a1a" stroke-width="1.4" />
<path d="M531.17 255.3 L529.82 251.4 L533.3 251.4" fill="none" stroke="#1a1a1a" stroke-width="1.4" />
<path d="M329.3 258 L329.3 211 L543.7 211 L543.7 258" fill="none" stroke="#1a1a1a" stroke-width="1.2" />
<text x="318.7" y="230.3" font-size="4.5" font-family="'Liberation Sans','Noto Sans CJK SC',sans-serif" fill="#222" text-anchor="middle" font-weight="700" >抱</text>
<text x="318.7" y="237" font-size="4.5" font-family="'Liberation Sans','Noto Sans CJK SC',sans-serif" fill="#222" text-anchor="middle" font-weight="700" >闸</text>
<text x="336" y="230.3" font-size="4.5" font-family="'Liberation Sans','Noto Sans CJK SC',sans-serif" fill="#222" text-anchor="middle" font-weight="700" >可</text>
<text x="336" y="237" font-size="4.5" font-family="'Liberation Sans','Noto Sans CJK SC',sans-serif" fill="#222" text-anchor="middle" font-weight="700" >顶针</text>
<text x="355.3" y="230.3" font-size="4.5" font-family="'Liberation Sans','Noto Sans CJK SC',sans-serif" fill="#222" text-anchor="middle" font-weight="700" >再</text>
<text x="355.3" y="237" font-size="4.5" font-family="'Liberation Sans','Noto Sans CJK SC',sans-serif" fill="#222" text-anchor="middle" font-weight="700" >循环</text>
<text x="373" y="230.3" font-size="4.5" font-family="'Liberation Sans','Noto Sans CJK SC',sans-serif" fill="#222" text-anchor="middle" font-weight="700" >可</text>
<text x="373" y="237" font-size="4.5" font-family="'Liberation Sans','Noto Sans CJK SC',sans-serif" fill="#222" text-anchor="middle" font-weight="700" >开模</text>
<text x="391" y="230.3" font-size="4.5" font-family="'Liberation Sans','Noto Sans CJK SC',sans-serif" fill="#222" text-anchor="middle" font-weight="700" >可</text>
<text x="391" y="237" font-size="4.5" font-family="'Liberation Sans','Noto Sans CJK SC',sans-serif" fill="#222" text-anchor="middle" font-weight="700" >关模</text>
<text x="414" y="230.3" font-size="4.5" font-family="'Liberation Sans','Noto Sans CJK SC',sans-serif" fill="#222" text-anchor="middle" font-weight="700" >关</text>
<text x="414" y="237" font-size="4.5" font-family="'Liberation Sans','Noto Sans CJK SC',sans-serif" fill="#222" text-anchor="middle" font-weight="700" >模完</text>
<text x="430" y="230.3" font-size="4.5" font-family="'Liberation Sans','Noto Sans CJK SC',sans-serif" fill="#222" text-anchor="middle" font-weight="700" >开</text>
<text x="430" y="237" font-size="4.5" font-family="'Liberation Sans','Noto Sans CJK SC',sans-serif" fill="#222" text-anchor="middle" font-weight="700" >模定</text>
<text x="448" y="231.3" font-size="4.5" font-family="'Liberation Sans','Noto Sans CJK SC',sans-serif" fill="#222" text-anchor="middle" font-weight="700" >安</text>
<text x="448" y="238" font-size="4.5" font-family="'Liberation Sans','Noto Sans CJK SC',sans-serif" fill="#222" text-anchor="middle" font-weight="700" >全门</text>
<text x="471.7" y="230.3" font-size="4.5" font-family="'Liberation Sans','Noto Sans CJK SC',sans-serif" fill="#222" text-anchor="middle" font-weight="700" >急</text>
<text x="471.7" y="237" font-size="4.5" font-family="'Liberation Sans','Noto Sans CJK SC',sans-serif" fill="#222" text-anchor="middle" font-weight="700" >停</text>
<text x="492.8" y="230.3" font-size="4.5" font-family="'Liberation Sans','Noto Sans CJK SC',sans-serif" fill="#222" text-anchor="middle" font-weight="700" >顶</text>
<text x="492.8" y="237" font-size="4.5" font-family="'Liberation Sans','Noto Sans CJK SC',sans-serif" fill="#222" text-anchor="middle" font-weight="700" >退</text>
<text x="501.7" y="230.3" font-size="4.5" font-family="'Liberation Sans','Noto Sans CJK SC',sans-serif" fill="#222" text-anchor="middle" font-weight="700" >中</text>
<text x="501.7" y="237" font-size="4.5" font-family="'Liberation Sans','Noto Sans CJK SC',sans-serif" fill="#222" text-anchor="middle" font-weight="700" >模</text>
<text x="510" y="230.3" font-size="4.5" font-family="'Liberation Sans','Noto Sans CJK SC',sans-serif" fill="#222" text-anchor="middle" font-weight="700" >自</text>
<text x="510" y="237" font-size="4.5" font-family="'Liberation Sans','Noto Sans CJK SC',sans-serif" fill="#222" text-anchor="middle" font-weight="700" >动</text>
<text x="519" y="230.3" font-size="4.5" font-family="'Liberation Sans','Noto Sans CJK SC',sans-serif" fill="#222" text-anchor="middle" font-weight="700" >不</text>
<text x="519" y="237" font-size="4.5" font-family="'Liberation Sans','Noto Sans CJK SC',sans-serif" fill="#222" text-anchor="middle" font-weight="700" >良</text>
<text x="527.5" y="230.3" font-size="4.5" font-family="'Liberation Sans','Noto Sans CJK SC',sans-serif" fill="#222" text-anchor="middle" font-weight="700" >公</text>
<text x="527.5" y="237" font-size="4.5" font-family="'Liberation Sans','Noto Sans CJK SC',sans-serif" fill="#222" text-anchor="middle" font-weight="700" >共</text>
<circle cx="484.7" cy="228.6" r="0.7" fill="#222" stroke="#1a1a1a" stroke-width="0" />
<circle cx="318.4" cy="243.5" r="12.8" fill="none" stroke="#1a1a1a" stroke-width="1.1" />
<path d="M313.6 235 L310.6 210" fill="none" stroke="#1a1a1a" stroke-width="1.7" />
<circle cx="313.3" cy="236.4" r="1.3" fill="#fff" stroke="#1a1a1a" stroke-width="0.8" />
<path d="M310.3 205.8 L308.5 210.2 L312.4 210.2 Z" fill="#fff" stroke="#1a1a1a" stroke-width="0.9" />
<text x="428.8" y="169.7" font-size="12" font-family="'Liberation Serif','Noto Serif CJK SC',serif" fill="#1a1a1a" textLength="65" lengthAdjust="spacingAndGlyphs" font-weight="500" >注塑用IO端口</text>
<path d="M439.6 171 L439.6 208" fill="none" stroke="#1a1a1a" stroke-width="1.1" />
<path d="M442.5 171 L442.5 208" fill="none" stroke="#1a1a1a" stroke-width="1.1" />
<path d="M435.6 208 L445.8 208 L440.8 215.3 Z" fill="#fff" stroke="#1a1a1a" stroke-width="1.1" />
<path d="M263.2 281 L295 281 Q297.8 281 297.8 284 L297.8 749 L263.2 749" fill="none" stroke="#1a1a1a" stroke-width="1.4" />
<rect x="274.4" y="284.4" width="20.6" height="52.4" rx="0" fill="#fff" stroke="#1a1a1a" stroke-width="1.7" />
<path d="M277.2 287 L288 287 L290.6 289.6 Q293.2 293.4 290.6 297.2 L288.8 299.2 L290.6 301.2 Q293.2 305 290.6 308.8 L288.8 310.8 L290.6 312.8 Q293.2 316.6 290.6 320.4 L288.8 322.4 L290.6 324.4 Q293.2 328.2 290.6 332 L288.8 334 L288.8 334.2 L277.2 334.2 Z" fill="none" stroke="#1a1a1a" stroke-width="1.1" />
<path d="M205 281.5 L205 293.5 L284.3 293.5" fill="none" stroke="#1a1a1a" stroke-width="1.3" />
<path d="M199.3 281.5 L199.3 305 L285.6 305" fill="none" stroke="#1a1a1a" stroke-width="1.3" />
<path d="M239.3 293.5 L239.3 316.5 L284.3 316.5" fill="none" stroke="#1a1a1a" stroke-width="1.3" />
<path d="M226.7 305 L226.7 328 L284.3 328" fill="none" stroke="#1a1a1a" stroke-width="1.3" />
<circle cx="239.3" cy="293.5" r="1.6" fill="#1a1a1a"/>
<circle cx="226.7" cy="305" r="1.6" fill="#1a1a1a"/>
<circle cx="285.6" cy="293.5" r="1.3" fill="#fff" stroke="#1a1a1a" stroke-width="0.9" />
<circle cx="285.6" cy="305" r="1.3" fill="#fff" stroke="#1a1a1a" stroke-width="0.9" />
<circle cx="285.6" cy="316.5" r="1.3" fill="#fff" stroke="#1a1a1a" stroke-width="0.9" />
<circle cx="285.6" cy="328" r="1.3" fill="#fff" stroke="#1a1a1a" stroke-width="0.9" />
<circle cx="285.6" cy="305" r="1.3" fill="#1a1a1a"/>
<text x="302.5" y="295.4" font-size="5.8" font-family="'Liberation Serif','Noto Serif CJK SC',serif" fill="#222" textLength="8.4" lengthAdjust="spacingAndGlyphs" font-weight="700" >+24V</text>
<text x="302.5" y="306.9" font-size="5.8" font-family="'Liberation Serif','Noto Serif CJK SC',serif" fill="#222" textLength="6.6" lengthAdjust="spacingAndGlyphs" font-weight="700" >GND</text>
<text x="302.5" y="318.4" font-size="5.8" font-family="'Liberation Serif','Noto Serif CJK SC',serif" fill="#222" textLength="8.4" lengthAdjust="spacingAndGlyphs" font-weight="700" >+24V</text>
<text x="302.5" y="329.9" font-size="5.8" font-family="'Liberation Serif','Noto Serif CJK SC',serif" fill="#222" textLength="6.6" lengthAdjust="spacingAndGlyphs" font-weight="700" >GND</text>
<rect x="276.75" y="343.5" width="16.7" height="90.8" rx="0" fill="#fff" stroke="#1a1a1a" stroke-width="1.5" />
<path d="M292 343.8 L292 434" fill="none" stroke="#777" stroke-width="2" />
<path d="M278.4 432.8 L278.4 345.1 L286.9 345.1" fill="none" stroke="#777" stroke-width="1.2" />
<circle cx="283.7" cy="349.8" r="1.3" fill="#666" stroke="#1a1a1a" stroke-width="1" />
<circle cx="283.7" cy="358.49" r="1.3" fill="#666" stroke="#1a1a1a" stroke-width="1" />
<circle cx="283.7" cy="367.18" r="1.3" fill="#666" stroke="#1a1a1a" stroke-width="1" />
<circle cx="283.7" cy="375.87" r="1.3" fill="#666" stroke="#1a1a1a" stroke-width="1" />
<circle cx="283.7" cy="384.56" r="1.3" fill="#666" stroke="#1a1a1a" stroke-width="1" />
<circle cx="283.7" cy="393.25" r="1.3" fill="#666" stroke="#1a1a1a" stroke-width="1" />
<circle cx="283.7" cy="401.94" r="1.3" fill="#666" stroke="#1a1a1a" stroke-width="1" />
<circle cx="283.7" cy="410.63" r="1.3" fill="#666" stroke="#1a1a1a" stroke-width="1" />
<circle cx="283.7" cy="419.32" r="1.3" fill="#666" stroke="#1a1a1a" stroke-width="1" />
<circle cx="283.7" cy="428.01" r="1.3" fill="#666" stroke="#1a1a1a" stroke-width="1" />
<path d="M288 344.2 L288 347.15 L291.9 347.95" fill="none" stroke="#1a1a1a" stroke-width="1.1" />
<path d="M291.9 351.65 L288 352.45 L288 355.85 L291.9 356.65" fill="#fff" stroke="#1a1a1a" stroke-width="1.1" />
<path d="M291.9 360.34 L288 361.14 L288 364.54 L291.9 365.34" fill="#fff" stroke="#1a1a1a" stroke-width="1.1" />
<path d="M291.9 369.03 L288 369.83 L288 373.23 L291.9 374.03" fill="#fff" stroke="#1a1a1a" stroke-width="1.1" />
<path d="M291.9 377.72 L288 378.52 L288 381.92 L291.9 382.72" fill="#fff" stroke="#1a1a1a" stroke-width="1.1" />
<path d="M291.9 386.41 L288 387.21 L288 390.61 L291.9 391.41" fill="#fff" stroke="#1a1a1a" stroke-width="1.1" />
<path d="M291.9 395.1 L288 395.9 L288 399.3 L291.9 400.1" fill="#fff" stroke="#1a1a1a" stroke-width="1.1" />
<path d="M291.9 403.79 L288 404.59 L288 407.99 L291.9 408.79" fill="#fff" stroke="#1a1a1a" stroke-width="1.1" />
<path d="M291.9 412.48 L288 413.28 L288 416.68 L291.9 417.48" fill="#fff" stroke="#1a1a1a" stroke-width="1.1" />
<path d="M291.9 421.17 L288 421.97 L288 425.37 L291.9 426.17" fill="#fff" stroke="#1a1a1a" stroke-width="1.1" />
<path d="M291.9 429.86 L288 430.66 L288 433.6" fill="none" stroke="#1a1a1a" stroke-width="1.1" />
<rect x="276.75" y="440.7" width="16.7" height="91.2" rx="0" fill="#fff" stroke="#1a1a1a" stroke-width="1.5" />
<path d="M292 441 L292 531.6" fill="none" stroke="#777" stroke-width="2" />
<path d="M278.4 530.4 L278.4 442.3 L286.9 442.3" fill="none" stroke="#777" stroke-width="1.2" />
<circle cx="283.7" cy="447.2" r="1.3" fill="#666" stroke="#1a1a1a" stroke-width="1" />
<circle cx="283.7" cy="455.89" r="1.3" fill="#666" stroke="#1a1a1a" stroke-width="1" />
<circle cx="283.7" cy="464.58" r="1.3" fill="#666" stroke="#1a1a1a" stroke-width="1" />
<circle cx="283.7" cy="473.27" r="1.3" fill="#666" stroke="#1a1a1a" stroke-width="1" />
<circle cx="283.7" cy="481.96" r="1.3" fill="#666" stroke="#1a1a1a" stroke-width="1" />
<circle cx="283.7" cy="490.65" r="1.3" fill="#666" stroke="#1a1a1a" stroke-width="1" />
<circle cx="283.7" cy="499.34" r="1.3" fill="#666" stroke="#1a1a1a" stroke-width="1" />
<circle cx="283.7" cy="508.03" r="1.3" fill="#666" stroke="#1a1a1a" stroke-width="1" />
<circle cx="283.7" cy="516.72" r="1.3" fill="#666" stroke="#1a1a1a" stroke-width="1" />
<circle cx="283.7" cy="525.41" r="1.3" fill="#666" stroke="#1a1a1a" stroke-width="1" />
<path d="M288 441.4 L288 444.55 L291.9 445.35" fill="none" stroke="#1a1a1a" stroke-width="1.1" />
<path d="M291.9 449.05 L288 449.85 L288 453.25 L291.9 454.05" fill="#fff" stroke="#1a1a1a" stroke-width="1.1" />
<path d="M291.9 457.74 L288 458.54 L288 461.94 L291.9 462.74" fill="#fff" stroke="#1a1a1a" stroke-width="1.1" />
<path d="M291.9 466.43 L288 467.23 L288 470.62 L291.9 471.43" fill="#fff" stroke="#1a1a1a" stroke-width="1.1" />
<path d="M291.9 475.12 L288 475.92 L288 479.31 L291.9 480.12" fill="#fff" stroke="#1a1a1a" stroke-width="1.1" />
<path d="M291.9 483.81 L288 484.61 L288 488 L291.9 488.81" fill="#fff" stroke="#1a1a1a" stroke-width="1.1" />
<path d="M291.9 492.5 L288 493.3 L288 496.69 L291.9 497.5" fill="#fff" stroke="#1a1a1a" stroke-width="1.1" />
<path d="M291.9 501.19 L288 501.99 L288 505.38 L291.9 506.19" fill="#fff" stroke="#1a1a1a" stroke-width="1.1" />
<path d="M291.9 509.88 L288 510.68 L288 514.08 L291.9 514.88" fill="#fff" stroke="#1a1a1a" stroke-width="1.1" />
<path d="M291.9 518.56 L288 519.36 L288 522.76 L291.9 523.56" fill="#fff" stroke="#1a1a1a" stroke-width="1.1" />
<path d="M291.9 527.25 L288 528.05 L288 531.2" fill="none" stroke="#1a1a1a" stroke-width="1.1" />
<rect x="276.75" y="556.5" width="16.7" height="90.8" rx="0" fill="#fff" stroke="#1a1a1a" stroke-width="1.5" />
<path d="M292 556.8 L292 647" fill="none" stroke="#777" stroke-width="2" />
<path d="M278.4 645.8 L278.4 558.1 L286.9 558.1" fill="none" stroke="#777" stroke-width="1.2" />
<circle cx="283.7" cy="563" r="1.3" fill="#666" stroke="#1a1a1a" stroke-width="1" />
<circle cx="283.7" cy="571.69" r="1.3" fill="#666" stroke="#1a1a1a" stroke-width="1" />
<circle cx="283.7" cy="580.38" r="1.3" fill="#666" stroke="#1a1a1a" stroke-width="1" />
<circle cx="283.7" cy="589.07" r="1.3" fill="#666" stroke="#1a1a1a" stroke-width="1" />
<circle cx="283.7" cy="597.76" r="1.3" fill="#666" stroke="#1a1a1a" stroke-width="1" />
<circle cx="283.7" cy="606.45" r="1.3" fill="#666" stroke="#1a1a1a" stroke-width="1" />
<circle cx="283.7" cy="615.14" r="1.3" fill="#666" stroke="#1a1a1a" stroke-width="1" />
<circle cx="283.7" cy="623.83" r="1.3" fill="#666" stroke="#1a1a1a" stroke-width="1" />
<circle cx="283.7" cy="632.52" r="1.3" fill="#666" stroke="#1a1a1a" stroke-width="1" />
<circle cx="283.7" cy="641.21" r="1.3" fill="#666" stroke="#1a1a1a" stroke-width="1" />
<path d="M288 557.2 L288 560.36 L291.9 561.15" fill="none" stroke="#1a1a1a" stroke-width="1.1" />
<path d="M291.9 564.85 L288 565.64 L288 569.05 L291.9 569.85" fill="#fff" stroke="#1a1a1a" stroke-width="1.1" />
<path d="M291.9 573.53 L288 574.33 L288 577.74 L291.9 578.53" fill="#fff" stroke="#1a1a1a" stroke-width="1.1" />
<path d="M291.9 582.23 L288 583.02 L288 586.43 L291.9 587.23" fill="#fff" stroke="#1a1a1a" stroke-width="1.1" />
<path d="M291.9 590.91 L288 591.71 L288 595.12 L291.9 595.91" fill="#fff" stroke="#1a1a1a" stroke-width="1.1" />
<path d="M291.9 599.61 L288 600.4 L288 603.81 L291.9 604.61" fill="#fff" stroke="#1a1a1a" stroke-width="1.1" />
<path d="M291.9 608.29 L288 609.09 L288 612.5 L291.9 613.29" fill="#fff" stroke="#1a1a1a" stroke-width="1.1" />
<path d="M291.9 616.99 L288 617.78 L288 621.19 L291.9 621.99" fill="#fff" stroke="#1a1a1a" stroke-width="1.1" />
<path d="M291.9 625.67 L288 626.47 L288 629.88 L291.9 630.67" fill="#fff" stroke="#1a1a1a" stroke-width="1.1" />
<path d="M291.9 634.37 L288 635.16 L288 638.57 L291.9 639.37" fill="#fff" stroke="#1a1a1a" stroke-width="1.1" />
<path d="M291.9 643.05 L288 643.85 L288 646.6" fill="none" stroke="#1a1a1a" stroke-width="1.1" />
<rect x="276.75" y="654.1" width="16.7" height="92" rx="0" fill="#fff" stroke="#1a1a1a" stroke-width="1.5" />
<path d="M292 654.4 L292 745.8" fill="none" stroke="#777" stroke-width="2" />
<path d="M278.4 744.6 L278.4 655.7 L286.9 655.7" fill="none" stroke="#777" stroke-width="1.2" />
<circle cx="283.7" cy="660.6" r="1.3" fill="#666" stroke="#1a1a1a" stroke-width="1" />
<circle cx="283.7" cy="669.29" r="1.3" fill="#666" stroke="#1a1a1a" stroke-width="1" />
<circle cx="283.7" cy="677.98" r="1.3" fill="#666" stroke="#1a1a1a" stroke-width="1" />
<circle cx="283.7" cy="686.67" r="1.3" fill="#666" stroke="#1a1a1a" stroke-width="1" />
<circle cx="283.7" cy="695.36" r="1.3" fill="#666" stroke="#1a1a1a" stroke-width="1" />
<circle cx="283.7" cy="704.05" r="1.3" fill="#666" stroke="#1a1a1a" stroke-width="1" />
<circle cx="283.7" cy="712.74" r="1.3" fill="#666" stroke="#1a1a1a" stroke-width="1" />
<circle cx="283.7" cy="721.43" r="1.3" fill="#666" stroke="#1a1a1a" stroke-width="1" />
<circle cx="283.7" cy="730.12" r="1.3" fill="#666" stroke="#1a1a1a" stroke-width="1" />
<circle cx="283.7" cy="738.81" r="1.3" fill="#666" stroke="#1a1a1a" stroke-width="1" />
<path d="M288 654.8 L288 657.96 L291.9 658.75" fill="none" stroke="#1a1a1a" stroke-width="1.1" />
<path d="M291.9 662.45 L288 663.25 L288 666.65 L291.9 667.45" fill="#fff" stroke="#1a1a1a" stroke-width="1.1" />
<path d="M291.9 671.13 L288 671.93 L288 675.34 L291.9 676.13" fill="#fff" stroke="#1a1a1a" stroke-width="1.1" />
<path d="M291.9 679.83 L288 680.62 L288 684.03 L291.9 684.83" fill="#fff" stroke="#1a1a1a" stroke-width="1.1" />
<path d="M291.9 688.51 L288 689.31 L288 692.72 L291.9 693.51" fill="#fff" stroke="#1a1a1a" stroke-width="1.1" />
<path d="M291.9 697.21 L288 698 L288 701.41 L291.9 702.21" fill="#fff" stroke="#1a1a1a" stroke-width="1.1" />
<path d="M291.9 705.89 L288 706.69 L288 710.1 L291.9 710.89" fill="#fff" stroke="#1a1a1a" stroke-width="1.1" />
<path d="M291.9 714.59 L288 715.38 L288 718.79 L291.9 719.59" fill="#fff" stroke="#1a1a1a" stroke-width="1.1" />
<path d="M291.9 723.27 L288 724.07 L288 727.48 L291.9 728.27" fill="#fff" stroke="#1a1a1a" stroke-width="1.1" />
<path d="M291.9 731.97 L288 732.76 L288 736.17 L291.9 736.97" fill="#fff" stroke="#1a1a1a" stroke-width="1.1" />
<path d="M291.9 740.65 L288 741.45 L288 745.4" fill="none" stroke="#1a1a1a" stroke-width="1.1" />
<rect x="628.15" y="343.3" width="16.7" height="90.4" rx="0" fill="#fff" stroke="#1a1a1a" stroke-width="1.5" />
<path d="M643.4 343.6 L643.4 433.4" fill="none" stroke="#777" stroke-width="2" />
<path d="M633.9 344.9 L642.4 344.9" fill="none" stroke="#777" stroke-width="1" />
<circle cx="637.9" cy="349.8" r="1.3" fill="#666" stroke="#1a1a1a" stroke-width="1" />
<circle cx="637.9" cy="358.49" r="1.3" fill="#666" stroke="#1a1a1a" stroke-width="1" />
<circle cx="637.9" cy="367.18" r="1.3" fill="#666" stroke="#1a1a1a" stroke-width="1" />
<circle cx="637.9" cy="375.87" r="1.3" fill="#666" stroke="#1a1a1a" stroke-width="1" />
<circle cx="637.9" cy="384.56" r="1.3" fill="#666" stroke="#1a1a1a" stroke-width="1" />
<circle cx="637.9" cy="393.25" r="1.3" fill="#666" stroke="#1a1a1a" stroke-width="1" />
<circle cx="637.9" cy="401.94" r="1.3" fill="#666" stroke="#1a1a1a" stroke-width="1" />
<circle cx="637.9" cy="410.63" r="1.3" fill="#666" stroke="#1a1a1a" stroke-width="1" />
<circle cx="637.9" cy="419.32" r="1.3" fill="#666" stroke="#1a1a1a" stroke-width="1" />
<circle cx="637.9" cy="428.01" r="1.3" fill="#666" stroke="#1a1a1a" stroke-width="1" />
<path d="M632.8 344 L632.8 347.15 L628.9 347.95" fill="none" stroke="#1a1a1a" stroke-width="1.1" />
<path d="M628.9 351.65 L632.8 352.45 L632.8 355.85 L628.9 356.65" fill="#fff" stroke="#1a1a1a" stroke-width="1.1" />
<path d="M628.9 360.34 L632.8 361.14 L632.8 364.54 L628.9 365.34" fill="#fff" stroke="#1a1a1a" stroke-width="1.1" />
<path d="M628.9 369.03 L632.8 369.83 L632.8 373.23 L628.9 374.03" fill="#fff" stroke="#1a1a1a" stroke-width="1.1" />
<path d="M628.9 377.72 L632.8 378.52 L632.8 381.92 L628.9 382.72" fill="#fff" stroke="#1a1a1a" stroke-width="1.1" />
<path d="M628.9 386.41 L632.8 387.21 L632.8 390.61 L628.9 391.41" fill="#fff" stroke="#1a1a1a" stroke-width="1.1" />
<path d="M628.9 395.1 L632.8 395.9 L632.8 399.3 L628.9 400.1" fill="#fff" stroke="#1a1a1a" stroke-width="1.1" />
<path d="M628.9 403.79 L632.8 404.59 L632.8 407.99 L628.9 408.79" fill="#fff" stroke="#1a1a1a" stroke-width="1.1" />
<path d="M628.9 412.48 L632.8 413.28 L632.8 416.68 L628.9 417.48" fill="#fff" stroke="#1a1a1a" stroke-width="1.1" />
<path d="M628.9 421.17 L632.8 421.97 L632.8 425.37 L628.9 426.17" fill="#fff" stroke="#1a1a1a" stroke-width="1.1" />
<path d="M628.9 429.86 L632.8 430.66 L632.8 433" fill="none" stroke="#1a1a1a" stroke-width="1.1" />
<rect x="628.15" y="440.7" width="16.7" height="91.2" rx="0" fill="#fff" stroke="#1a1a1a" stroke-width="1.5" />
<path d="M643.4 441 L643.4 531.6" fill="none" stroke="#777" stroke-width="2" />
<path d="M633.9 442.3 L642.4 442.3" fill="none" stroke="#777" stroke-width="1" />
<circle cx="637.9" cy="447.2" r="1.3" fill="#666" stroke="#1a1a1a" stroke-width="1" />
<circle cx="637.9" cy="455.89" r="1.3" fill="#666" stroke="#1a1a1a" stroke-width="1" />
<circle cx="637.9" cy="464.58" r="1.3" fill="#666" stroke="#1a1a1a" stroke-width="1" />
<circle cx="637.9" cy="473.27" r="1.3" fill="#666" stroke="#1a1a1a" stroke-width="1" />
<circle cx="637.9" cy="481.96" r="1.3" fill="#666" stroke="#1a1a1a" stroke-width="1" />
<circle cx="637.9" cy="490.65" r="1.3" fill="#666" stroke="#1a1a1a" stroke-width="1" />
<circle cx="637.9" cy="499.34" r="1.3" fill="#666" stroke="#1a1a1a" stroke-width="1" />
<circle cx="637.9" cy="508.03" r="1.3" fill="#666" stroke="#1a1a1a" stroke-width="1" />
<circle cx="637.9" cy="516.72" r="1.3" fill="#666" stroke="#1a1a1a" stroke-width="1" />
<circle cx="637.9" cy="525.41" r="1.3" fill="#666" stroke="#1a1a1a" stroke-width="1" />
<path d="M632.8 441.4 L632.8 444.55 L628.9 445.35" fill="none" stroke="#1a1a1a" stroke-width="1.1" />
<path d="M628.9 449.05 L632.8 449.85 L632.8 453.25 L628.9 454.05" fill="#fff" stroke="#1a1a1a" stroke-width="1.1" />
<path d="M628.9 457.74 L632.8 458.54 L632.8 461.94 L628.9 462.74" fill="#fff" stroke="#1a1a1a" stroke-width="1.1" />
<path d="M628.9 466.43 L632.8 467.23 L632.8 470.62 L628.9 471.43" fill="#fff" stroke="#1a1a1a" stroke-width="1.1" />
<path d="M628.9 475.12 L632.8 475.92 L632.8 479.31 L628.9 480.12" fill="#fff" stroke="#1a1a1a" stroke-width="1.1" />
<path d="M628.9 483.81 L632.8 484.61 L632.8 488 L628.9 488.81" fill="#fff" stroke="#1a1a1a" stroke-width="1.1" />
<path d="M628.9 492.5 L632.8 493.3 L632.8 496.69 L628.9 497.5" fill="#fff" stroke="#1a1a1a" stroke-width="1.1" />
<path d="M628.9 501.19 L632.8 501.99 L632.8 505.38 L628.9 506.19" fill="#fff" stroke="#1a1a1a" stroke-width="1.1" />
<path d="M628.9 509.88 L632.8 510.68 L632.8 514.08 L628.9 514.88" fill="#fff" stroke="#1a1a1a" stroke-width="1.1" />
<path d="M628.9 518.56 L632.8 519.36 L632.8 522.76 L628.9 523.56" fill="#fff" stroke="#1a1a1a" stroke-width="1.1" />
<path d="M628.9 527.25 L632.8 528.05 L632.8 531.2" fill="none" stroke="#1a1a1a" stroke-width="1.1" />
<rect x="628.15" y="556.5" width="16.7" height="90.8" rx="0" fill="#fff" stroke="#1a1a1a" stroke-width="1.5" />
<path d="M643.4 556.8 L643.4 647" fill="none" stroke="#777" stroke-width="2" />
<path d="M633.9 558.1 L642.4 558.1" fill="none" stroke="#777" stroke-width="1" />
<circle cx="637.9" cy="563" r="1.3" fill="#666" stroke="#1a1a1a" stroke-width="1" />
<circle cx="637.9" cy="571.69" r="1.3" fill="#666" stroke="#1a1a1a" stroke-width="1" />
<circle cx="637.9" cy="580.38" r="1.3" fill="#666" stroke="#1a1a1a" stroke-width="1" />
<circle cx="637.9" cy="589.07" r="1.3" fill="#666" stroke="#1a1a1a" stroke-width="1" />
<circle cx="637.9" cy="597.76" r="1.3" fill="#666" stroke="#1a1a1a" stroke-width="1" />
<circle cx="637.9" cy="606.45" r="1.3" fill="#666" stroke="#1a1a1a" stroke-width="1" />
<circle cx="637.9" cy="615.14" r="1.3" fill="#666" stroke="#1a1a1a" stroke-width="1" />
<circle cx="637.9" cy="623.83" r="1.3" fill="#666" stroke="#1a1a1a" stroke-width="1" />
<circle cx="637.9" cy="632.52" r="1.3" fill="#666" stroke="#1a1a1a" stroke-width="1" />
<circle cx="637.9" cy="641.21" r="1.3" fill="#666" stroke="#1a1a1a" stroke-width="1" />
<path d="M632.8 557.2 L632.8 560.36 L628.9 561.15" fill="none" stroke="#1a1a1a" stroke-width="1.1" />
<path d="M628.9 564.85 L632.8 565.64 L632.8 569.05 L628.9 569.85" fill="#fff" stroke="#1a1a1a" stroke-width="1.1" />
<path d="M628.9 573.53 L632.8 574.33 L632.8 577.74 L628.9 578.53" fill="#fff" stroke="#1a1a1a" stroke-width="1.1" />
<path d="M628.9 582.23 L632.8 583.02 L632.8 586.43 L628.9 587.23" fill="#fff" stroke="#1a1a1a" stroke-width="1.1" />
<path d="M628.9 590.91 L632.8 591.71 L632.8 595.12 L628.9 595.91" fill="#fff" stroke="#1a1a1a" stroke-width="1.1" />
<path d="M628.9 599.61 L632.8 600.4 L632.8 603.81 L628.9 604.61" fill="#fff" stroke="#1a1a1a" stroke-width="1.1" />
<path d="M628.9 608.29 L632.8 609.09 L632.8 612.5 L628.9 613.29" fill="#fff" stroke="#1a1a1a" stroke-width="1.1" />
<path d="M628.9 616.99 L632.8 617.78 L632.8 621.19 L628.9 621.99" fill="#fff" stroke="#1a1a1a" stroke-width="1.1" />
<path d="M628.9 625.67 L632.8 626.47 L632.8 629.88 L628.9 630.67" fill="#fff" stroke="#1a1a1a" stroke-width="1.1" />
<path d="M628.9 634.37 L632.8 635.16 L632.8 638.57 L628.9 639.37" fill="#fff" stroke="#1a1a1a" stroke-width="1.1" />
<path d="M628.9 643.05 L632.8 643.85 L632.8 646.6" fill="none" stroke="#1a1a1a" stroke-width="1.1" />
<rect x="628.15" y="654.1" width="16.7" height="92" rx="0" fill="#fff" stroke="#1a1a1a" stroke-width="1.5" />
<path d="M643.4 654.4 L643.4 745.8" fill="none" stroke="#777" stroke-width="2" />
<path d="M633.9 655.7 L642.4 655.7" fill="none" stroke="#777" stroke-width="1" />
<circle cx="637.9" cy="660.6" r="1.3" fill="#666" stroke="#1a1a1a" stroke-width="1" />
<circle cx="637.9" cy="669.29" r="1.3" fill="#666" stroke="#1a1a1a" stroke-width="1" />
<circle cx="637.9" cy="677.98" r="1.3" fill="#666" stroke="#1a1a1a" stroke-width="1" />
<circle cx="637.9" cy="686.67" r="1.3" fill="#666" stroke="#1a1a1a" stroke-width="1" />
<circle cx="637.9" cy="695.36" r="1.3" fill="#666" stroke="#1a1a1a" stroke-width="1" />
<circle cx="637.9" cy="704.05" r="1.3" fill="#666" stroke="#1a1a1a" stroke-width="1" />
<circle cx="637.9" cy="712.74" r="1.3" fill="#666" stroke="#1a1a1a" stroke-width="1" />
<circle cx="637.9" cy="721.43" r="1.3" fill="#666" stroke="#1a1a1a" stroke-width="1" />
<circle cx="637.9" cy="730.12" r="1.3" fill="#666" stroke="#1a1a1a" stroke-width="1" />
<circle cx="637.9" cy="738.81" r="1.3" fill="#666" stroke="#1a1a1a" stroke-width="1" />
<path d="M632.8 654.8 L632.8 657.96 L628.9 658.75" fill="none" stroke="#1a1a1a" stroke-width="1.1" />
<path d="M628.9 662.45 L632.8 663.25 L632.8 666.65 L628.9 667.45" fill="#fff" stroke="#1a1a1a" stroke-width="1.1" />
<path d="M628.9 671.13 L632.8 671.93 L632.8 675.34 L628.9 676.13" fill="#fff" stroke="#1a1a1a" stroke-width="1.1" />
<path d="M628.9 679.83 L632.8 680.62 L632.8 684.03 L628.9 684.83" fill="#fff" stroke="#1a1a1a" stroke-width="1.1" />
<path d="M628.9 688.51 L632.8 689.31 L632.8 692.72 L628.9 693.51" fill="#fff" stroke="#1a1a1a" stroke-width="1.1" />
<path d="M628.9 697.21 L632.8 698 L632.8 701.41 L628.9 702.21" fill="#fff" stroke="#1a1a1a" stroke-width="1.1" />
<path d="M628.9 705.89 L632.8 706.69 L632.8 710.1 L628.9 710.89" fill="#fff" stroke="#1a1a1a" stroke-width="1.1" />
<path d="M628.9 714.59 L632.8 715.38 L632.8 718.79 L628.9 719.59" fill="#fff" stroke="#1a1a1a" stroke-width="1.1" />
<path d="M628.9 723.27 L632.8 724.07 L632.8 727.48 L628.9 728.27" fill="#fff" stroke="#1a1a1a" stroke-width="1.1" />
<path d="M628.9 731.97 L632.8 732.76 L632.8 736.17 L628.9 736.97" fill="#fff" stroke="#1a1a1a" stroke-width="1.1" />
<path d="M628.9 740.65 L632.8 741.45 L632.8 745.4" fill="none" stroke="#1a1a1a" stroke-width="1.1" />
<rect x="628.15" y="260.7" width="16.7" height="20.2" rx="0" fill="#fff" stroke="#1a1a1a" stroke-width="1.5" />
<path d="M643.4 261 L643.4 280.6" fill="none" stroke="#777" stroke-width="2" />
<path d="M633.9 262.3 L642.4 262.3" fill="none" stroke="#777" stroke-width="1" />
<circle cx="637.9" cy="267" r="1.3" fill="#666" stroke="#1a1a1a" stroke-width="1" />
<circle cx="637.9" cy="275.69" r="1.3" fill="#666" stroke="#1a1a1a" stroke-width="1" />
<path d="M632.8 261.4 L632.8 264.35 L628.9 265.15" fill="none" stroke="#1a1a1a" stroke-width="1.1" />
<path d="M628.9 268.85 L632.8 269.65 L632.8 273.05 L628.9 273.85" fill="#fff" stroke="#1a1a1a" stroke-width="1.1" />
<path d="M628.9 277.54 L632.8 278.34 L632.8 280.2" fill="none" stroke="#1a1a1a" stroke-width="1.1" />
<rect x="628.15" y="304.3" width="16.7" height="30" rx="0" fill="#fff" stroke="#1a1a1a" stroke-width="1.5" />
<path d="M643.4 304.6 L643.4 334" fill="none" stroke="#777" stroke-width="2" />
<path d="M633.9 305.9 L642.4 305.9" fill="none" stroke="#777" stroke-width="1" />
<circle cx="637.9" cy="310.6" r="1.3" fill="#666" stroke="#1a1a1a" stroke-width="1" />
<circle cx="637.9" cy="319.29" r="1.3" fill="#666" stroke="#1a1a1a" stroke-width="1" />
<circle cx="637.9" cy="327.98" r="1.3" fill="#666" stroke="#1a1a1a" stroke-width="1" />
<path d="M632.8 305 L632.8 307.95 L628.9 308.75" fill="none" stroke="#1a1a1a" stroke-width="1.1" />
<path d="M628.9 312.45 L632.8 313.25 L632.8 316.65 L628.9 317.45" fill="#fff" stroke="#1a1a1a" stroke-width="1.1" />
<path d="M628.9 321.14 L632.8 321.94 L632.8 325.34 L628.9 326.14" fill="#fff" stroke="#1a1a1a" stroke-width="1.1" />
<path d="M628.9 329.83 L632.8 330.63 L632.8 333.6" fill="none" stroke="#1a1a1a" stroke-width="1.1" />
<path d="M624.6 258 L624.6 746.5 Q624.6 749 627.2 749 L661.2 749" fill="none" stroke="#1a1a1a" stroke-width="1.3" />
<path d="M249.3 340 L301 340" fill="none" stroke="#1a1a1a" stroke-width="1.5" stroke-dasharray="6.2 3.4" stroke-dashoffset="1"/>
<path d="M249.3 757.8 L301 757.8" fill="none" stroke="#1a1a1a" stroke-width="1.5" stroke-dasharray="6.2 3.4" stroke-dashoffset="1"/>
<path d="M249.3 340 L249.3 757.8" fill="none" stroke="#1a1a1a" stroke-width="1.3" stroke-dasharray="5.2 3.49" stroke-dashoffset="0"/>
<path d="M300.9 339.1 L300.9 757.8" fill="none" stroke="#1a1a1a" stroke-width="1.5" stroke-dasharray="4.5 4.35"/>
<path d="M619.4 255.8 L674.4 255.8" fill="none" stroke="#1a1a1a" stroke-width="1.3" stroke-dasharray="5.2 3.5"/>
<path d="M619.4 758.3 L674.4 758.3" fill="none" stroke="#1a1a1a" stroke-width="1.2" stroke-dasharray="5.2 3.5"/>
<path d="M674.2 255.8 L674.2 758.2" fill="none" stroke="#1a1a1a" stroke-width="1.3" stroke-dasharray="5.1 3.59"/>
<path d="M619.4 259.2 L619.4 758.2" fill="none" stroke="#1a1a1a" stroke-width="1.4" stroke-dasharray="4.5 4.35"/>
<circle cx="306.7" cy="349.8" r="1.85" fill="#fff" stroke="#1a1a1a" stroke-width="1.7" />
<text x="310.9" y="351.8" font-size="5.9" font-family="'Liberation Serif','Noto Serif CJK SC',serif" fill="#222" textLength="6.4" lengthAdjust="spacingAndGlyphs" font-weight="700" >24V</text>
<text x="320.4" y="351.8" font-size="5.9" font-family="'Liberation Serif','Noto Serif CJK SC',serif" fill="#222" textLength="11.5" lengthAdjust="spacingAndGlyphs" font-weight="700" >POWER</text>
<circle cx="306.7" cy="358.49" r="1.85" fill="#fff" stroke="#1a1a1a" stroke-width="1.7" />
<text x="310.9" y="360.49" font-size="5.9" font-family="'Liberation Serif','Noto Serif CJK SC',serif" fill="#222" textLength="6.4" lengthAdjust="spacingAndGlyphs" font-weight="700" >X40</text>
<text x="320.8" y="360.19" font-size="4.6" font-family="'Liberation Sans','Noto Sans CJK SC',sans-serif" fill="#222" textLength="21.5" lengthAdjust="spacingAndGlyphs" font-weight="700" >主调位下限</text>
<circle cx="306.7" cy="367.18" r="1.85" fill="#fff" stroke="#1a1a1a" stroke-width="1.7" />
<text x="310.9" y="369.18" font-size="5.9" font-family="'Liberation Serif','Noto Serif CJK SC',serif" fill="#222" textLength="6.4" lengthAdjust="spacingAndGlyphs" font-weight="700" >X41</text>
<text x="320.8" y="368.88" font-size="4.6" font-family="'Liberation Sans','Noto Sans CJK SC',sans-serif" fill="#222" textLength="21.5" lengthAdjust="spacingAndGlyphs" font-weight="700" >主位置退限</text>
<circle cx="306.7" cy="375.87" r="1.85" fill="#fff" stroke="#1a1a1a" stroke-width="1.7" />
<text x="310.9" y="377.87" font-size="5.9" font-family="'Liberation Serif','Noto Serif CJK SC',serif" fill="#222" textLength="6.4" lengthAdjust="spacingAndGlyphs" font-weight="700" >X42</text>
<text x="320.8" y="377.57" font-size="4.6" font-family="'Liberation Sans','Noto Sans CJK SC',sans-serif" fill="#222" textLength="21.5" lengthAdjust="spacingAndGlyphs" font-weight="700" >主行程进限</text>
<circle cx="306.7" cy="384.56" r="1.85" fill="#fff" stroke="#1a1a1a" stroke-width="1.7" />
<text x="310.9" y="386.56" font-size="5.9" font-family="'Liberation Serif','Noto Serif CJK SC',serif" fill="#222" textLength="6.4" lengthAdjust="spacingAndGlyphs" font-weight="700" >X43</text>
<text x="320.8" y="386.26" font-size="4.6" font-family="'Liberation Sans','Noto Sans CJK SC',sans-serif" fill="#222" textLength="21.5" lengthAdjust="spacingAndGlyphs" font-weight="700" >副调位下限</text>
<circle cx="306.7" cy="393.25" r="1.85" fill="#fff" stroke="#1a1a1a" stroke-width="1.7" />
<text x="310.9" y="395.25" font-size="5.9" font-family="'Liberation Serif','Noto Serif CJK SC',serif" fill="#222" textLength="6.4" lengthAdjust="spacingAndGlyphs" font-weight="700" >X44</text>
<text x="320.8" y="394.95" font-size="4.6" font-family="'Liberation Sans','Noto Sans CJK SC',sans-serif" fill="#222" textLength="21.5" lengthAdjust="spacingAndGlyphs" font-weight="700" >副位置退限</text>
<circle cx="306.7" cy="401.94" r="1.85" fill="#fff" stroke="#1a1a1a" stroke-width="1.7" />
<text x="310.9" y="403.94" font-size="5.9" font-family="'Liberation Serif','Noto Serif CJK SC',serif" fill="#222" textLength="6.4" lengthAdjust="spacingAndGlyphs" font-weight="700" >X45</text>
<text x="320.8" y="403.64" font-size="4.6" font-family="'Liberation Sans','Noto Sans CJK SC',sans-serif" fill="#222" textLength="21.5" lengthAdjust="spacingAndGlyphs" font-weight="700" >副行程进限</text>
<circle cx="306.7" cy="410.63" r="1.85" fill="#fff" stroke="#1a1a1a" stroke-width="1.7" />
<text x="310.9" y="412.63" font-size="5.9" font-family="'Liberation Serif','Noto Serif CJK SC',serif" fill="#222" textLength="6.4" lengthAdjust="spacingAndGlyphs" font-weight="700" >X46</text>
<circle cx="306.7" cy="419.32" r="1.85" fill="#fff" stroke="#1a1a1a" stroke-width="1.7" />
<text x="310.9" y="421.32" font-size="5.9" font-family="'Liberation Serif','Noto Serif CJK SC',serif" fill="#222" textLength="6.4" lengthAdjust="spacingAndGlyphs" font-weight="700" >X47</text>
<text x="310.9" y="430.01" font-size="5.9" font-family="'Liberation Serif','Noto Serif CJK SC',serif" fill="#222" textLength="6.4" lengthAdjust="spacingAndGlyphs" font-weight="700" >0V</text>
<text x="310.9" y="449.2" font-size="5.9" font-family="'Liberation Serif','Noto Serif CJK SC',serif" fill="#222" textLength="6.4" lengthAdjust="spacingAndGlyphs" font-weight="700" >24V</text>
<circle cx="306.7" cy="455.89" r="1.85" fill="#fff" stroke="#1a1a1a" stroke-width="1.7" />
<text x="310.9" y="457.89" font-size="5.9" font-family="'Liberation Serif','Noto Serif CJK SC',serif" fill="#222" textLength="6.4" lengthAdjust="spacingAndGlyphs" font-weight="700" >X30</text>
<text x="320.8" y="457.59" font-size="4.6" font-family="'Liberation Sans','Noto Sans CJK SC',sans-serif" fill="#222" textLength="17.2" lengthAdjust="spacingAndGlyphs" font-weight="700" >副前进限</text>
<circle cx="306.7" cy="464.58" r="1.85" fill="#fff" stroke="#1a1a1a" stroke-width="1.7" />
<text x="310.9" y="466.58" font-size="5.9" font-family="'Liberation Serif','Noto Serif CJK SC',serif" fill="#222" textLength="6.4" lengthAdjust="spacingAndGlyphs" font-weight="700" >X31</text>
<text x="320.8" y="466.28" font-size="4.6" font-family="'Liberation Sans','Noto Sans CJK SC',sans-serif" fill="#222" textLength="17.2" lengthAdjust="spacingAndGlyphs" font-weight="700" >副后退限</text>
<circle cx="306.7" cy="473.27" r="1.85" fill="#fff" stroke="#1a1a1a" stroke-width="1.7" />
<text x="310.9" y="475.27" font-size="5.9" font-family="'Liberation Serif','Noto Serif CJK SC',serif" fill="#222" textLength="6.4" lengthAdjust="spacingAndGlyphs" font-weight="700" >X32</text>
<text x="320.8" y="474.97" font-size="4.6" font-family="'Liberation Sans','Noto Sans CJK SC',sans-serif" fill="#222" textLength="17.2" lengthAdjust="spacingAndGlyphs" font-weight="700" >副上升限</text>
<circle cx="306.7" cy="481.96" r="1.85" fill="#fff" stroke="#1a1a1a" stroke-width="1.7" />
<text x="310.9" y="483.96" font-size="5.9" font-family="'Liberation Serif','Noto Serif CJK SC',serif" fill="#222" textLength="6.4" lengthAdjust="spacingAndGlyphs" font-weight="700" >X33</text>
<text x="320.8" y="483.66" font-size="4.6" font-family="'Liberation Sans','Noto Sans CJK SC',sans-serif" fill="#222" textLength="17.2" lengthAdjust="spacingAndGlyphs" font-weight="700" >副下降限</text>
<circle cx="306.7" cy="490.65" r="1.85" fill="#fff" stroke="#1a1a1a" stroke-width="1.7" />
<text x="310.9" y="492.65" font-size="5.9" font-family="'Liberation Serif','Noto Serif CJK SC',serif" fill="#222" textLength="6.4" lengthAdjust="spacingAndGlyphs" font-weight="700" >X34</text>
<text x="320.8" y="492.35" font-size="4.6" font-family="'Liberation Sans','Noto Sans CJK SC',sans-serif" fill="#222" textLength="17.2" lengthAdjust="spacingAndGlyphs" font-weight="700" >副臂夹限</text>
<circle cx="306.7" cy="499.34" r="1.85" fill="#fff" stroke="#1a1a1a" stroke-width="1.7" />
<text x="310.9" y="501.34" font-size="5.9" font-family="'Liberation Serif','Noto Serif CJK SC',serif" fill="#222" textLength="6.4" lengthAdjust="spacingAndGlyphs" font-weight="700" >X35</text>
<text x="320.8" y="501.04" font-size="4.6" font-family="'Liberation Sans','Noto Sans CJK SC',sans-serif" fill="#222" textLength="17.2" lengthAdjust="spacingAndGlyphs" font-weight="700" >Y轴原点</text>
<circle cx="306.7" cy="508.03" r="1.85" fill="#fff" stroke="#1a1a1a" stroke-width="1.7" />
<text x="310.9" y="510.03" font-size="5.9" font-family="'Liberation Serif','Noto Serif CJK SC',serif" fill="#222" textLength="6.4" lengthAdjust="spacingAndGlyphs" font-weight="700" >X36</text>
<text x="320.8" y="509.73" font-size="4.6" font-family="'Liberation Sans','Noto Sans CJK SC',sans-serif" fill="#222" textLength="17.2" lengthAdjust="spacingAndGlyphs" font-weight="700" >加工1限</text>
<circle cx="306.7" cy="516.72" r="1.85" fill="#fff" stroke="#1a1a1a" stroke-width="1.7" />
<text x="310.9" y="518.72" font-size="5.9" font-family="'Liberation Serif','Noto Serif CJK SC',serif" fill="#222" textLength="6.4" lengthAdjust="spacingAndGlyphs" font-weight="700" >X37</text>
<text x="320.8" y="518.42" font-size="4.6" font-family="'Liberation Sans','Noto Sans CJK SC',sans-serif" fill="#222" textLength="17.2" lengthAdjust="spacingAndGlyphs" font-weight="700" >预留2限</text>
<text x="310.9" y="527.41" font-size="5.9" font-family="'Liberation Serif','Noto Serif CJK SC',serif" fill="#222" textLength="6.4" lengthAdjust="spacingAndGlyphs" font-weight="700" >0V</text>
<text x="310.9" y="565" font-size="5.9" font-family="'Liberation Serif','Noto Serif CJK SC',serif" fill="#222" textLength="6.4" lengthAdjust="spacingAndGlyphs" font-weight="700" >24V</text>
<circle cx="306.7" cy="571.69" r="1.85" fill="#fff" stroke="#1a1a1a" stroke-width="1.7" />
<text x="310.9" y="573.69" font-size="5.9" font-family="'Liberation Serif','Noto Serif CJK SC',serif" fill="#222" textLength="6.4" lengthAdjust="spacingAndGlyphs" font-weight="700" >X20</text>
<text x="320.8" y="573.39" font-size="4.6" font-family="'Liberation Sans','Noto Sans CJK SC',sans-serif" fill="#222" textLength="17.2" lengthAdjust="spacingAndGlyphs" font-weight="700" >上升模限</text>
<circle cx="306.7" cy="580.38" r="1.85" fill="#fff" stroke="#1a1a1a" stroke-width="1.7" />
<text x="310.9" y="582.38" font-size="5.9" font-family="'Liberation Serif','Noto Serif CJK SC',serif" fill="#222" textLength="6.4" lengthAdjust="spacingAndGlyphs" font-weight="700" >X21</text>
<text x="320.8" y="582.08" font-size="4.6" font-family="'Liberation Sans','Noto Sans CJK SC',sans-serif" fill="#222" textLength="17.2" lengthAdjust="spacingAndGlyphs" font-weight="700" >中位置物</text>
<circle cx="306.7" cy="589.07" r="1.85" fill="#fff" stroke="#1a1a1a" stroke-width="1.7" />
<text x="310.9" y="591.07" font-size="5.9" font-family="'Liberation Serif','Noto Serif CJK SC',serif" fill="#222" textLength="6.4" lengthAdjust="spacingAndGlyphs" font-weight="700" >X22</text>
<text x="320.8" y="590.77" font-size="4.6" font-family="'Liberation Sans','Noto Sans CJK SC',sans-serif" fill="#222" textLength="17.2" lengthAdjust="spacingAndGlyphs" font-weight="700" >压力检测</text>
<circle cx="306.7" cy="597.76" r="1.85" fill="#fff" stroke="#1a1a1a" stroke-width="1.7" />
<text x="310.9" y="599.76" font-size="5.9" font-family="'Liberation Serif','Noto Serif CJK SC',serif" fill="#222" textLength="6.4" lengthAdjust="spacingAndGlyphs" font-weight="700" >X23</text>
<text x="320.8" y="599.46" font-size="4.6" font-family="'Liberation Sans','Noto Sans CJK SC',sans-serif" fill="#222" textLength="17.2" lengthAdjust="spacingAndGlyphs" font-weight="700" >型内安全</text>
<circle cx="306.7" cy="606.45" r="1.85" fill="#fff" stroke="#1a1a1a" stroke-width="1.7" />
<text x="310.9" y="608.45" font-size="5.9" font-family="'Liberation Serif','Noto Serif CJK SC',serif" fill="#222" textLength="6.4" lengthAdjust="spacingAndGlyphs" font-weight="700" >X24</text>
<text x="320.8" y="608.15" font-size="4.6" font-family="'Liberation Sans','Noto Sans CJK SC',sans-serif" fill="#222" textLength="17.2" lengthAdjust="spacingAndGlyphs" font-weight="700" >型外安全</text>
<circle cx="306.7" cy="615.14" r="1.85" fill="#fff" stroke="#1a1a1a" stroke-width="1.7" />
<text x="310.9" y="617.14" font-size="5.9" font-family="'Liberation Serif','Noto Serif CJK SC',serif" fill="#222" textLength="6.4" lengthAdjust="spacingAndGlyphs" font-weight="700" >X25</text>
<text x="320.8" y="616.84" font-size="4.6" font-family="'Liberation Sans','Noto Sans CJK SC',sans-serif" fill="#222" textLength="17.2" lengthAdjust="spacingAndGlyphs" font-weight="700" >Z轴原点</text>
<circle cx="306.7" cy="623.83" r="1.85" fill="#fff" stroke="#1a1a1a" stroke-width="1.7" />
<text x="310.9" y="625.83" font-size="5.9" font-family="'Liberation Serif','Noto Serif CJK SC',serif" fill="#222" textLength="6.4" lengthAdjust="spacingAndGlyphs" font-weight="700" >X26</text>
<text x="320.8" y="625.53" font-size="4.6" font-family="'Liberation Sans','Noto Sans CJK SC',sans-serif" fill="#222" textLength="17.2" lengthAdjust="spacingAndGlyphs" font-weight="700" >横入极限</text>
<circle cx="306.7" cy="632.52" r="1.85" fill="#fff" stroke="#1a1a1a" stroke-width="1.7" />
<text x="310.9" y="634.52" font-size="5.9" font-family="'Liberation Serif','Noto Serif CJK SC',serif" fill="#222" textLength="6.4" lengthAdjust="spacingAndGlyphs" font-weight="700" >X27</text>
<text x="320.8" y="634.22" font-size="4.6" font-family="'Liberation Sans','Noto Sans CJK SC',sans-serif" fill="#222" textLength="17.2" lengthAdjust="spacingAndGlyphs" font-weight="700" >横出极限</text>
<text x="310.9" y="643.21" font-size="5.9" font-family="'Liberation Serif','Noto Serif CJK SC',serif" fill="#222" textLength="6.4" lengthAdjust="spacingAndGlyphs" font-weight="700" >0V</text>
<text x="310.9" y="662.6" font-size="5.9" font-family="'Liberation Serif','Noto Serif CJK SC',serif" fill="#222" textLength="6.4" lengthAdjust="spacingAndGlyphs" font-weight="700" >24V</text>
<circle cx="306.7" cy="669.29" r="1.85" fill="#fff" stroke="#1a1a1a" stroke-width="1.7" />
<text x="310.9" y="671.29" font-size="5.9" font-family="'Liberation Serif','Noto Serif CJK SC',serif" fill="#222" textLength="6.4" lengthAdjust="spacingAndGlyphs" font-weight="700" >X10</text>
<text x="320.8" y="670.99" font-size="4.6" font-family="'Liberation Sans','Noto Sans CJK SC',sans-serif" fill="#222" textLength="12.9" lengthAdjust="spacingAndGlyphs" font-weight="700" >水平限</text>
<circle cx="306.7" cy="677.98" r="1.85" fill="#fff" stroke="#1a1a1a" stroke-width="1.7" />
<text x="310.9" y="679.98" font-size="5.9" font-family="'Liberation Serif','Noto Serif CJK SC',serif" fill="#222" textLength="6.4" lengthAdjust="spacingAndGlyphs" font-weight="700" >X11</text>
<text x="320.8" y="679.68" font-size="4.6" font-family="'Liberation Sans','Noto Sans CJK SC',sans-serif" fill="#222" textLength="12.9" lengthAdjust="spacingAndGlyphs" font-weight="700" >垂直限</text>
<circle cx="306.7" cy="686.67" r="1.85" fill="#fff" stroke="#1a1a1a" stroke-width="1.7" />
<text x="310.9" y="688.67" font-size="5.9" font-family="'Liberation Serif','Noto Serif CJK SC',serif" fill="#222" textLength="6.4" lengthAdjust="spacingAndGlyphs" font-weight="700" >X12</text>
<text x="320.8" y="688.37" font-size="4.6" font-family="'Liberation Sans','Noto Sans CJK SC',sans-serif" fill="#222" textLength="12.9" lengthAdjust="spacingAndGlyphs" font-weight="700" >主夹限</text>
<circle cx="306.7" cy="695.36" r="1.85" fill="#fff" stroke="#1a1a1a" stroke-width="1.7" />
<text x="310.9" y="697.36" font-size="5.9" font-family="'Liberation Serif','Noto Serif CJK SC',serif" fill="#222" textLength="6.4" lengthAdjust="spacingAndGlyphs" font-weight="700" >X13</text>
<text x="320.8" y="697.06" font-size="4.6" font-family="'Liberation Sans','Noto Sans CJK SC',sans-serif" fill="#222" textLength="12.9" lengthAdjust="spacingAndGlyphs" font-weight="700" >抱具限</text>
<circle cx="306.7" cy="704.05" r="1.85" fill="#fff" stroke="#1a1a1a" stroke-width="1.7" />
<text x="310.9" y="706.05" font-size="5.9" font-family="'Liberation Serif','Noto Serif CJK SC',serif" fill="#222" textLength="6.4" lengthAdjust="spacingAndGlyphs" font-weight="700" >X14</text>
<text x="320.8" y="705.75" font-size="4.6" font-family="'Liberation Sans','Noto Sans CJK SC',sans-serif" fill="#222" textLength="17.2" lengthAdjust="spacingAndGlyphs" font-weight="700" >真空吸限</text>
<circle cx="306.7" cy="712.74" r="1.85" fill="#fff" stroke="#1a1a1a" stroke-width="1.7" />
<text x="310.9" y="714.74" font-size="5.9" font-family="'Liberation Serif','Noto Serif CJK SC',serif" fill="#222" textLength="6.4" lengthAdjust="spacingAndGlyphs" font-weight="700" >X15</text>
<text x="320.8" y="714.44" font-size="4.6" font-family="'Liberation Sans','Noto Sans CJK SC',sans-serif" fill="#222" textLength="17.2" lengthAdjust="spacingAndGlyphs" font-weight="700" >主前进限</text>
<circle cx="306.7" cy="721.43" r="1.85" fill="#fff" stroke="#1a1a1a" stroke-width="1.7" />
<text x="310.9" y="723.43" font-size="5.9" font-family="'Liberation Serif','Noto Serif CJK SC',serif" fill="#222" textLength="6.4" lengthAdjust="spacingAndGlyphs" font-weight="700" >X16</text>
<text x="320.8" y="723.13" font-size="4.6" font-family="'Liberation Sans','Noto Sans CJK SC',sans-serif" fill="#222" textLength="17.2" lengthAdjust="spacingAndGlyphs" font-weight="700" >主后退限</text>
<circle cx="306.7" cy="730.12" r="1.85" fill="#fff" stroke="#1a1a1a" stroke-width="1.7" />
<text x="310.9" y="732.12" font-size="5.9" font-family="'Liberation Serif','Noto Serif CJK SC',serif" fill="#222" textLength="6.4" lengthAdjust="spacingAndGlyphs" font-weight="700" >X17</text>
<text x="320.8" y="731.82" font-size="4.6" font-family="'Liberation Sans','Noto Sans CJK SC',sans-serif" fill="#222" textLength="17.2" lengthAdjust="spacingAndGlyphs" font-weight="700" >下降极限</text>
<text x="310.9" y="740.81" font-size="5.9" font-family="'Liberation Serif','Noto Serif CJK SC',serif" fill="#222" textLength="6.4" lengthAdjust="spacingAndGlyphs" font-weight="700" >0V</text>
<circle cx="615" cy="341.11" r="1.85" fill="#fff" stroke="#1a1a1a" stroke-width="1.7" />
<text x="610.5" y="343.11" font-size="5.9" font-family="'Liberation Serif','Noto Serif CJK SC',serif" fill="#222" text-anchor="end" textLength="6.4" lengthAdjust="spacingAndGlyphs" font-weight="700" >RUN</text>
<text x="601.9" y="342.81" font-size="4.6" font-family="'Liberation Sans','Noto Sans CJK SC',sans-serif" fill="#222" text-anchor="end" textLength="13.2" lengthAdjust="spacingAndGlyphs" font-weight="700" >运行灯</text>
<circle cx="615" cy="349.8" r="1.85" fill="#fff" stroke="#1a1a1a" stroke-width="1.7" />
<text x="610.5" y="351.8" font-size="5.9" font-family="'Liberation Serif','Noto Serif CJK SC',serif" fill="#222" text-anchor="end" textLength="6.4" lengthAdjust="spacingAndGlyphs" font-weight="700" >Y40</text>
<text x="601.9" y="351.5" font-size="4.6" font-family="'Liberation Sans','Noto Sans CJK SC',sans-serif" fill="#222" text-anchor="end" textLength="22" lengthAdjust="spacingAndGlyphs" font-weight="700" >主调位上下</text>
<circle cx="615" cy="358.49" r="1.85" fill="#fff" stroke="#1a1a1a" stroke-width="1.7" />
<text x="610.5" y="360.49" font-size="5.9" font-family="'Liberation Serif','Noto Serif CJK SC',serif" fill="#222" text-anchor="end" textLength="6.4" lengthAdjust="spacingAndGlyphs" font-weight="700" >Y41</text>
<text x="601.9" y="360.19" font-size="4.6" font-family="'Liberation Sans','Noto Sans CJK SC',sans-serif" fill="#222" text-anchor="end" textLength="22" lengthAdjust="spacingAndGlyphs" font-weight="700" >主位置进退</text>
<circle cx="615" cy="367.18" r="1.85" fill="#fff" stroke="#1a1a1a" stroke-width="1.7" />
<text x="610.5" y="369.18" font-size="5.9" font-family="'Liberation Serif','Noto Serif CJK SC',serif" fill="#222" text-anchor="end" textLength="6.4" lengthAdjust="spacingAndGlyphs" font-weight="700" >Y42</text>
<text x="601.9" y="368.88" font-size="4.6" font-family="'Liberation Sans','Noto Sans CJK SC',sans-serif" fill="#222" text-anchor="end" textLength="22" lengthAdjust="spacingAndGlyphs" font-weight="700" >主行程进退</text>
<circle cx="615" cy="375.87" r="1.85" fill="#fff" stroke="#1a1a1a" stroke-width="1.7" />
<text x="610.5" y="377.87" font-size="5.9" font-family="'Liberation Serif','Noto Serif CJK SC',serif" fill="#222" text-anchor="end" textLength="6.4" lengthAdjust="spacingAndGlyphs" font-weight="700" >Y43</text>
<text x="601.9" y="377.57" font-size="4.6" font-family="'Liberation Sans','Noto Sans CJK SC',sans-serif" fill="#222" text-anchor="end" textLength="22" lengthAdjust="spacingAndGlyphs" font-weight="700" >副调位上下</text>
<circle cx="615" cy="384.56" r="1.85" fill="#fff" stroke="#1a1a1a" stroke-width="1.7" />
<text x="610.5" y="386.56" font-size="5.9" font-family="'Liberation Serif','Noto Serif CJK SC',serif" fill="#222" text-anchor="end" textLength="6.4" lengthAdjust="spacingAndGlyphs" font-weight="700" >Y44</text>
<text x="601.9" y="386.26" font-size="4.6" font-family="'Liberation Sans','Noto Sans CJK SC',sans-serif" fill="#222" text-anchor="end" textLength="22" lengthAdjust="spacingAndGlyphs" font-weight="700" >副位置进退</text>
<circle cx="615" cy="393.25" r="1.85" fill="#fff" stroke="#1a1a1a" stroke-width="1.7" />
<text x="610.5" y="395.25" font-size="5.9" font-family="'Liberation Serif','Noto Serif CJK SC',serif" fill="#222" text-anchor="end" textLength="6.4" lengthAdjust="spacingAndGlyphs" font-weight="700" >Y45</text>
<text x="601.9" y="394.95" font-size="4.6" font-family="'Liberation Sans','Noto Sans CJK SC',sans-serif" fill="#222" text-anchor="end" textLength="22" lengthAdjust="spacingAndGlyphs" font-weight="700" >副行程进退</text>
<circle cx="615" cy="401.94" r="1.85" fill="#fff" stroke="#1a1a1a" stroke-width="1.7" />
<text x="610.5" y="403.94" font-size="5.9" font-family="'Liberation Serif','Noto Serif CJK SC',serif" fill="#222" text-anchor="end" textLength="6.4" lengthAdjust="spacingAndGlyphs" font-weight="700" >Y46</text>
<text x="601.9" y="403.64" font-size="4.6" font-family="'Liberation Sans','Noto Sans CJK SC',sans-serif" fill="#222" text-anchor="end" textLength="17.6" lengthAdjust="spacingAndGlyphs" font-weight="700" >正向反向</text>
<circle cx="615" cy="410.63" r="1.85" fill="#fff" stroke="#1a1a1a" stroke-width="1.7" />
<text x="610.5" y="412.63" font-size="5.9" font-family="'Liberation Serif','Noto Serif CJK SC',serif" fill="#222" text-anchor="end" textLength="6.4" lengthAdjust="spacingAndGlyphs" font-weight="700" >Y47</text>
<text x="601.9" y="412.33" font-size="4.6" font-family="'Liberation Sans','Noto Sans CJK SC',sans-serif" fill="#222" text-anchor="end" textLength="17.6" lengthAdjust="spacingAndGlyphs" font-weight="700" >急停输出</text>
<text x="610.5" y="421.32" font-size="5.9" font-family="'Liberation Serif','Noto Serif CJK SC',serif" fill="#222" text-anchor="end" textLength="6.4" lengthAdjust="spacingAndGlyphs" font-weight="700" >24V</text>
<text x="610.5" y="430.01" font-size="5.9" font-family="'Liberation Serif','Noto Serif CJK SC',serif" fill="#222" text-anchor="end" textLength="6.4" lengthAdjust="spacingAndGlyphs" font-weight="700" >24V</text>
<circle cx="615" cy="447.2" r="1.85" fill="#fff" stroke="#1a1a1a" stroke-width="1.7" />
<text x="610.5" y="449.2" font-size="5.9" font-family="'Liberation Serif','Noto Serif CJK SC',serif" fill="#222" text-anchor="end" textLength="6.4" lengthAdjust="spacingAndGlyphs" font-weight="700" >Y30</text>
<text x="601.9" y="448.9" font-size="4.6" font-family="'Liberation Sans','Noto Sans CJK SC',sans-serif" fill="#222" text-anchor="end" textLength="17.6" lengthAdjust="spacingAndGlyphs" font-weight="700" >副前进阀</text>
<circle cx="615" cy="455.89" r="1.85" fill="#fff" stroke="#1a1a1a" stroke-width="1.7" />
<text x="610.5" y="457.89" font-size="5.9" font-family="'Liberation Serif','Noto Serif CJK SC',serif" fill="#222" text-anchor="end" textLength="6.4" lengthAdjust="spacingAndGlyphs" font-weight="700" >Y31</text>
<text x="601.9" y="457.59" font-size="4.6" font-family="'Liberation Sans','Noto Sans CJK SC',sans-serif" fill="#222" text-anchor="end" textLength="17.6" lengthAdjust="spacingAndGlyphs" font-weight="700" >副后退阀</text>
<circle cx="615" cy="464.58" r="1.85" fill="#fff" stroke="#1a1a1a" stroke-width="1.7" />
<text x="610.5" y="466.58" font-size="5.9" font-family="'Liberation Serif','Noto Serif CJK SC',serif" fill="#222" text-anchor="end" textLength="6.4" lengthAdjust="spacingAndGlyphs" font-weight="700" >Y32</text>
<text x="601.9" y="466.28" font-size="4.6" font-family="'Liberation Sans','Noto Sans CJK SC',sans-serif" fill="#222" text-anchor="end" textLength="17.6" lengthAdjust="spacingAndGlyphs" font-weight="700" >副上升阀</text>
<circle cx="615" cy="473.27" r="1.85" fill="#fff" stroke="#1a1a1a" stroke-width="1.7" />
<text x="610.5" y="475.27" font-size="5.9" font-family="'Liberation Serif','Noto Serif CJK SC',serif" fill="#222" text-anchor="end" textLength="6.4" lengthAdjust="spacingAndGlyphs" font-weight="700" >Y33</text>
<text x="601.9" y="474.97" font-size="4.6" font-family="'Liberation Sans','Noto Sans CJK SC',sans-serif" fill="#222" text-anchor="end" textLength="17.6" lengthAdjust="spacingAndGlyphs" font-weight="700" >副下降阀</text>
<circle cx="615" cy="481.96" r="1.85" fill="#fff" stroke="#1a1a1a" stroke-width="1.7" />
<text x="610.5" y="483.96" font-size="5.9" font-family="'Liberation Serif','Noto Serif CJK SC',serif" fill="#222" text-anchor="end" textLength="6.4" lengthAdjust="spacingAndGlyphs" font-weight="700" >Y34</text>
<text x="601.9" y="483.66" font-size="4.6" font-family="'Liberation Sans','Noto Sans CJK SC',sans-serif" fill="#222" text-anchor="end" textLength="13.2" lengthAdjust="spacingAndGlyphs" font-weight="700" >副夹阀</text>
<circle cx="615" cy="490.65" r="1.85" fill="#fff" stroke="#1a1a1a" stroke-width="1.7" />
<text x="610.5" y="492.65" font-size="5.9" font-family="'Liberation Serif','Noto Serif CJK SC',serif" fill="#222" text-anchor="end" textLength="6.4" lengthAdjust="spacingAndGlyphs" font-weight="700" >Y35</text>
<text x="601.9" y="492.35" font-size="4.6" font-family="'Liberation Sans','Noto Sans CJK SC',sans-serif" fill="#222" text-anchor="end" textLength="17.6" lengthAdjust="spacingAndGlyphs" font-weight="700" >加工1阀</text>
<circle cx="615" cy="499.34" r="1.85" fill="#fff" stroke="#1a1a1a" stroke-width="1.7" />
<text x="610.5" y="501.34" font-size="5.9" font-family="'Liberation Serif','Noto Serif CJK SC',serif" fill="#222" text-anchor="end" textLength="6.4" lengthAdjust="spacingAndGlyphs" font-weight="700" >Y36</text>
<text x="601.9" y="501.04" font-size="4.6" font-family="'Liberation Sans','Noto Sans CJK SC',sans-serif" fill="#222" text-anchor="end" textLength="13.2" lengthAdjust="spacingAndGlyphs" font-weight="700" >剪刀阀</text>
<circle cx="615" cy="508.03" r="1.85" fill="#fff" stroke="#1a1a1a" stroke-width="1.7" />
<text x="610.5" y="510.03" font-size="5.9" font-family="'Liberation Serif','Noto Serif CJK SC',serif" fill="#222" text-anchor="end" textLength="6.4" lengthAdjust="spacingAndGlyphs" font-weight="700" >Y37</text>
<text x="601.9" y="509.73" font-size="4.6" font-family="'Liberation Sans','Noto Sans CJK SC',sans-serif" fill="#222" text-anchor="end" textLength="17.6" lengthAdjust="spacingAndGlyphs" font-weight="700" >输送机阀</text>
<text x="610.5" y="518.72" font-size="5.9" font-family="'Liberation Serif','Noto Serif CJK SC',serif" fill="#222" text-anchor="end" textLength="6.4" lengthAdjust="spacingAndGlyphs" font-weight="700" >24V</text>
<text x="610.5" y="527.41" font-size="5.9" font-family="'Liberation Serif','Noto Serif CJK SC',serif" fill="#222" text-anchor="end" textLength="6.4" lengthAdjust="spacingAndGlyphs" font-weight="700" >24V</text>
<circle cx="615" cy="563" r="1.85" fill="#fff" stroke="#1a1a1a" stroke-width="1.7" />
<text x="610.5" y="565" font-size="5.9" font-family="'Liberation Serif','Noto Serif CJK SC',serif" fill="#222" text-anchor="end" textLength="6.4" lengthAdjust="spacingAndGlyphs" font-weight="700" >Y20</text>
<text x="601.9" y="564.7" font-size="4.6" font-family="'Liberation Sans','Noto Sans CJK SC',sans-serif" fill="#222" text-anchor="end" textLength="17.6" lengthAdjust="spacingAndGlyphs" font-weight="700" >主上升阀</text>
<circle cx="615" cy="571.69" r="1.85" fill="#fff" stroke="#1a1a1a" stroke-width="1.7" />
<text x="610.5" y="573.69" font-size="5.9" font-family="'Liberation Serif','Noto Serif CJK SC',serif" fill="#222" text-anchor="end" textLength="6.4" lengthAdjust="spacingAndGlyphs" font-weight="700" >Y21</text>
<text x="601.9" y="573.39" font-size="4.6" font-family="'Liberation Sans','Noto Sans CJK SC',sans-serif" fill="#222" text-anchor="end" textLength="17.6" lengthAdjust="spacingAndGlyphs" font-weight="700" >主下降阀</text>
<circle cx="615" cy="580.38" r="1.85" fill="#fff" stroke="#1a1a1a" stroke-width="1.7" />
<text x="610.5" y="582.38" font-size="5.9" font-family="'Liberation Serif','Noto Serif CJK SC',serif" fill="#222" text-anchor="end" textLength="6.4" lengthAdjust="spacingAndGlyphs" font-weight="700" >Y22</text>
<text x="601.9" y="582.08" font-size="4.6" font-family="'Liberation Sans','Noto Sans CJK SC',sans-serif" fill="#222" text-anchor="end" textLength="13.2" lengthAdjust="spacingAndGlyphs" font-weight="700" >气压阀</text>
<circle cx="615" cy="589.07" r="1.85" fill="#fff" stroke="#1a1a1a" stroke-width="1.7" />
<text x="610.5" y="591.07" font-size="5.9" font-family="'Liberation Serif','Noto Serif CJK SC',serif" fill="#222" text-anchor="end" textLength="6.4" lengthAdjust="spacingAndGlyphs" font-weight="700" >Y23</text>
<text x="601.9" y="590.77" font-size="4.6" font-family="'Liberation Sans','Noto Sans CJK SC',sans-serif" fill="#222" text-anchor="end" textLength="13.2" lengthAdjust="spacingAndGlyphs" font-weight="700" >减速阀</text>
<circle cx="615" cy="597.76" r="1.85" fill="#fff" stroke="#1a1a1a" stroke-width="1.7" />
<text x="610.5" y="599.76" font-size="5.9" font-family="'Liberation Serif','Noto Serif CJK SC',serif" fill="#222" text-anchor="end" textLength="6.4" lengthAdjust="spacingAndGlyphs" font-weight="700" >Y24</text>
<text x="601.9" y="599.46" font-size="4.6" font-family="'Liberation Sans','Noto Sans CJK SC',sans-serif" fill="#222" text-anchor="end" textLength="17.6" lengthAdjust="spacingAndGlyphs" font-weight="700" >预留1阀</text>
<circle cx="615" cy="606.45" r="1.85" fill="#fff" stroke="#1a1a1a" stroke-width="1.7" />
<text x="610.5" y="608.45" font-size="5.9" font-family="'Liberation Serif','Noto Serif CJK SC',serif" fill="#222" text-anchor="end" textLength="6.4" lengthAdjust="spacingAndGlyphs" font-weight="700" >Y25</text>
<text x="601.9" y="608.15" font-size="4.6" font-family="'Liberation Sans','Noto Sans CJK SC',sans-serif" fill="#222" text-anchor="end" textLength="17.6" lengthAdjust="spacingAndGlyphs" font-weight="700" >预留2阀</text>
<circle cx="615" cy="615.14" r="1.85" fill="#fff" stroke="#1a1a1a" stroke-width="1.7" />
<text x="610.5" y="617.14" font-size="5.9" font-family="'Liberation Serif','Noto Serif CJK SC',serif" fill="#222" text-anchor="end" textLength="6.4" lengthAdjust="spacingAndGlyphs" font-weight="700" >Y26</text>
<text x="601.9" y="616.84" font-size="4.6" font-family="'Liberation Sans','Noto Sans CJK SC',sans-serif" fill="#222" text-anchor="end" textLength="13.2" lengthAdjust="spacingAndGlyphs" font-weight="700" >横入阀</text>
<circle cx="615" cy="623.83" r="1.85" fill="#fff" stroke="#1a1a1a" stroke-width="1.7" />
<text x="610.5" y="625.83" font-size="5.9" font-family="'Liberation Serif','Noto Serif CJK SC',serif" fill="#222" text-anchor="end" textLength="6.4" lengthAdjust="spacingAndGlyphs" font-weight="700" >Y27</text>
<text x="601.9" y="625.53" font-size="4.6" font-family="'Liberation Sans','Noto Sans CJK SC',sans-serif" fill="#222" text-anchor="end" textLength="13.2" lengthAdjust="spacingAndGlyphs" font-weight="700" >横出阀</text>
<text x="610.5" y="634.52" font-size="5.9" font-family="'Liberation Serif','Noto Serif CJK SC',serif" fill="#222" text-anchor="end" textLength="6.4" lengthAdjust="spacingAndGlyphs" font-weight="700" >24V</text>
<text x="610.5" y="643.21" font-size="5.9" font-family="'Liberation Serif','Noto Serif CJK SC',serif" fill="#222" text-anchor="end" textLength="6.4" lengthAdjust="spacingAndGlyphs" font-weight="700" >24V</text>
<circle cx="615" cy="660.6" r="1.85" fill="#fff" stroke="#1a1a1a" stroke-width="1.7" />
<text x="610.5" y="662.6" font-size="5.9" font-family="'Liberation Serif','Noto Serif CJK SC',serif" fill="#222" text-anchor="end" textLength="6.4" lengthAdjust="spacingAndGlyphs" font-weight="700" >Y10</text>
<text x="601.9" y="662.3" font-size="4.6" font-family="'Liberation Sans','Noto Sans CJK SC',sans-serif" fill="#222" text-anchor="end" textLength="13.2" lengthAdjust="spacingAndGlyphs" font-weight="700" >水平阀</text>
<circle cx="615" cy="669.29" r="1.85" fill="#fff" stroke="#1a1a1a" stroke-width="1.7" />
<text x="610.5" y="671.29" font-size="5.9" font-family="'Liberation Serif','Noto Serif CJK SC',serif" fill="#222" text-anchor="end" textLength="6.4" lengthAdjust="spacingAndGlyphs" font-weight="700" >Y11</text>
<text x="601.9" y="670.99" font-size="4.6" font-family="'Liberation Sans','Noto Sans CJK SC',sans-serif" fill="#222" text-anchor="end" textLength="13.2" lengthAdjust="spacingAndGlyphs" font-weight="700" >垂直阀</text>
<circle cx="615" cy="677.98" r="1.85" fill="#fff" stroke="#1a1a1a" stroke-width="1.7" />
<text x="610.5" y="679.98" font-size="5.9" font-family="'Liberation Serif','Noto Serif CJK SC',serif" fill="#222" text-anchor="end" textLength="6.4" lengthAdjust="spacingAndGlyphs" font-weight="700" >Y12</text>
<text x="601.9" y="679.68" font-size="4.6" font-family="'Liberation Sans','Noto Sans CJK SC',sans-serif" fill="#222" text-anchor="end" textLength="13.2" lengthAdjust="spacingAndGlyphs" font-weight="700" >主夹阀</text>
<circle cx="615" cy="686.67" r="1.85" fill="#fff" stroke="#1a1a1a" stroke-width="1.7" />
<text x="610.5" y="688.67" font-size="5.9" font-family="'Liberation Serif','Noto Serif CJK SC',serif" fill="#222" text-anchor="end" textLength="6.4" lengthAdjust="spacingAndGlyphs" font-weight="700" >Y13</text>
<text x="601.9" y="688.37" font-size="4.6" font-family="'Liberation Sans','Noto Sans CJK SC',sans-serif" fill="#222" text-anchor="end" textLength="13.2" lengthAdjust="spacingAndGlyphs" font-weight="700" >抱具阀</text>
<circle cx="615" cy="695.36" r="1.85" fill="#fff" stroke="#1a1a1a" stroke-width="1.7" />
<text x="610.5" y="697.36" font-size="5.9" font-family="'Liberation Serif','Noto Serif CJK SC',serif" fill="#222" text-anchor="end" textLength="6.4" lengthAdjust="spacingAndGlyphs" font-weight="700" >Y14</text>
<text x="601.9" y="697.06" font-size="4.6" font-family="'Liberation Sans','Noto Sans CJK SC',sans-serif" fill="#222" text-anchor="end" textLength="17.6" lengthAdjust="spacingAndGlyphs" font-weight="700" >真空吸阀</text>
<circle cx="615" cy="704.05" r="1.85" fill="#fff" stroke="#1a1a1a" stroke-width="1.7" />
<text x="610.5" y="706.05" font-size="5.9" font-family="'Liberation Serif','Noto Serif CJK SC',serif" fill="#222" text-anchor="end" textLength="6.4" lengthAdjust="spacingAndGlyphs" font-weight="700" >Y15</text>
<text x="601.9" y="705.75" font-size="4.6" font-family="'Liberation Sans','Noto Sans CJK SC',sans-serif" fill="#222" text-anchor="end" textLength="17.6" lengthAdjust="spacingAndGlyphs" font-weight="700" >主前进阀</text>
<circle cx="615" cy="712.74" r="1.85" fill="#fff" stroke="#1a1a1a" stroke-width="1.7" />
<text x="610.5" y="714.74" font-size="5.9" font-family="'Liberation Serif','Noto Serif CJK SC',serif" fill="#222" text-anchor="end" textLength="6.4" lengthAdjust="spacingAndGlyphs" font-weight="700" >Y16</text>
<text x="601.9" y="714.44" font-size="4.6" font-family="'Liberation Sans','Noto Sans CJK SC',sans-serif" fill="#222" text-anchor="end" textLength="17.6" lengthAdjust="spacingAndGlyphs" font-weight="700" >主后退阀</text>
<circle cx="615" cy="721.43" r="1.85" fill="#fff" stroke="#1a1a1a" stroke-width="1.7" />
<text x="610.5" y="723.43" font-size="5.9" font-family="'Liberation Serif','Noto Serif CJK SC',serif" fill="#222" text-anchor="end" textLength="6.4" lengthAdjust="spacingAndGlyphs" font-weight="700" >Y17</text>
<text x="601.9" y="723.13" font-size="4.6" font-family="'Liberation Sans','Noto Sans CJK SC',sans-serif" fill="#222" text-anchor="end" textLength="8.8" lengthAdjust="spacingAndGlyphs" font-weight="700" >报警</text>
<text x="610.5" y="732.12" font-size="5.9" font-family="'Liberation Serif','Noto Serif CJK SC',serif" fill="#222" text-anchor="end" textLength="6.4" lengthAdjust="spacingAndGlyphs" font-weight="700" >24V</text>
<text x="610.5" y="740.81" font-size="5.9" font-family="'Liberation Serif','Noto Serif CJK SC',serif" fill="#222" text-anchor="end" textLength="6.4" lengthAdjust="spacingAndGlyphs" font-weight="700" >24V</text>
<text x="617" y="269" font-size="5.8" font-family="'Liberation Serif','Noto Serif CJK SC',serif" fill="#222" text-anchor="end" textLength="4" lengthAdjust="spacingAndGlyphs" font-weight="700" >B2</text>
<text x="617" y="277.6" font-size="5.8" font-family="'Liberation Serif','Noto Serif CJK SC',serif" fill="#222" text-anchor="end" textLength="4" lengthAdjust="spacingAndGlyphs" font-weight="700" >B1</text>
<text x="617" y="312.6" font-size="5.8" font-family="'Liberation Serif','Noto Serif CJK SC',serif" fill="#222" text-anchor="end" textLength="10" lengthAdjust="spacingAndGlyphs" font-weight="700" >CAN_L</text>
<text x="617" y="321.2" font-size="5.8" font-family="'Liberation Serif','Noto Serif CJK SC',serif" fill="#222" text-anchor="end" textLength="10" lengthAdjust="spacingAndGlyphs" font-weight="700" >CAN_H</text>
<text x="617" y="330" font-size="5.8" font-family="'Liberation Serif','Noto Serif CJK SC',serif" fill="#222" text-anchor="end" textLength="14.5" lengthAdjust="spacingAndGlyphs" font-weight="700" >CAN_GND</text>
<text x="190.8" y="589" font-size="12.9" font-family="'Liberation Serif','Noto Serif CJK SC',serif" fill="#1a1a1a" textLength="54.8" lengthAdjust="spacingAndGlyphs" font-weight="500" >输入DI端口</text>
<path d="M217.8 593.6 L246 593.6" fill="none" stroke="#1a1a1a" stroke-width="1" />
<path d="M217.8 596.3 L246 596.3" fill="none" stroke="#1a1a1a" stroke-width="1" />
<path d="M217.8 593.6 L217.8 596.3" fill="none" stroke="#1a1a1a" stroke-width="1" />
<path d="M245.6 590.2 L253 595 L245.6 599.8 Z" fill="#fff" stroke="#1a1a1a" stroke-width="1" />
<text x="701.7" y="495.2" font-size="12.7" font-family="'Liberation Serif','Noto Serif CJK SC',serif" fill="#1a1a1a" textLength="54.4" lengthAdjust="spacingAndGlyphs" font-weight="500" >输出DO端口</text>
<path d="M706.7 502.1 L679.4 502.1" fill="none" stroke="#1a1a1a" stroke-width="1" />
<path d="M706.7 504.9 L679.4 504.9" fill="none" stroke="#1a1a1a" stroke-width="1" />
<path d="M706.7 502.1 L706.7 504.9" fill="none" stroke="#1a1a1a" stroke-width="1" />
<path d="M679.4 498.9 L671.2 503.5 L679.4 508.2 Z" fill="#fff" stroke="#1a1a1a" stroke-width="1" />
<rect x="427.5" y="330.1" width="69.5" height="23.4" rx="1.6" fill="#fff" stroke="#1a1a1a" stroke-width="1.6" />
<text x="452" y="343.6" font-size="7.7" font-family="'Liberation Sans',sans-serif" fill="#1a1a1a" textLength="43" lengthAdjust="spacingAndGlyphs" font-weight="bold" stroke="#1a1a1a" stroke-width="0.55">HUACHENG</text>
<path d="M430.5 334.8 C430.62 335.83 430.62 339.05 431.2 341 C431.78 342.95 432.62 345.17 434 346.5 C435.38 347.83 438.58 348.58 439.5 349" fill="none" stroke="#1a1a1a" stroke-width="1.9" />
<path d="M430.5 334.8 C431.08 334.8 433.25 334.18 434 334.8 C434.75 335.42 434.83 337.88 435 338.5" fill="none" stroke="#1a1a1a" stroke-width="1.3" />
<path d="M435 338.5 C435 339.33 434.42 342.08 435 343.5 C435.58 344.92 437.92 346.42 438.5 347" fill="none" stroke="#1a1a1a" stroke-width="1.2" />
<path d="M447.2 335.2 C446.42 334.97 444.03 333.75 442.5 333.8 C440.97 333.85 439.08 334.38 438 335.5 C436.92 336.62 435.92 338.75 436 340.5 C436.08 342.25 437.25 344.72 438.5 346 C439.75 347.28 441.83 348.28 443.5 348.2 C445.17 348.12 447.67 345.95 448.5 345.5" fill="none" stroke="#1a1a1a" stroke-width="2.4" />
<path d="M447.8 338.5 C447.25 338.25 445.47 336.95 444.5 337 C443.53 337.05 442.45 338.05 442 338.8 C441.55 339.55 441.47 340.72 441.8 341.5 C442.13 342.28 443 343.28 444 343.5 C445 343.72 447.17 342.92 447.8 342.8" fill="none" stroke="#1a1a1a" stroke-width="2" />
<rect x="491.8" y="662.8" width="69.8" height="23.2" rx="1.2" fill="#fff" stroke="#1a1a1a" stroke-width="1.5" />
<text x="525.2" y="678" font-size="10.5" font-family="'Liberation Serif','Noto Serif CJK SC',serif" fill="#1a1a1a" text-anchor="middle" textLength="46.6" lengthAdjust="spacingAndGlyphs" font-weight="500" >QC-S1E3-S03</text>
<rect x="366" y="699" width="87.6" height="44.4" rx="4" fill="#fff" stroke="#1a1a1a" stroke-width="2.5" />
<rect x="470.6" y="699" width="85" height="44.4" rx="4" fill="#fff" stroke="#1a1a1a" stroke-width="2.5" />
<path d="M389 707.5 C392.42 707.45 402.67 707.2 409.5 707.2 C416.33 707.2 426.22 707.03 430 707.5 C433.78 707.97 431.5 709.05 432.2 710 C432.9 710.95 433.07 712.7 434.2 713.2 C435.33 713.7 437.45 712.7 439 713 C440.55 713.3 442.37 713.67 443.5 715 C444.63 716.33 445.8 719 445.8 721 C445.8 723 444.63 725.7 443.5 727 C442.37 728.3 440.42 728.6 439 728.8 C437.58 729 436.08 727.67 435 728.2 C433.92 728.73 433.5 730.95 432.5 732 C431.5 733.05 432.75 734.03 429 734.5 C425.25 734.97 416.33 734.8 410 734.8 C403.67 734.8 394.7 734.97 391 734.5 C387.3 734.03 388.72 733.05 387.8 732 C386.88 730.95 386.63 728.73 385.5 728.2 C384.37 727.67 382.5 729 381 728.8 C379.5 728.6 377.7 728.3 376.5 727 C375.3 725.7 373.8 723 373.8 721 C373.8 719 375.3 716.33 376.5 715 C377.7 713.67 379.5 713.3 381 713 C382.5 712.7 384.47 713.7 385.5 713.2 C386.53 712.7 386.62 710.95 387.2 710 C387.78 709.05 388.7 707.92 389 707.5 Z" fill="none" stroke="#1a1a1a" stroke-width="1.3" />
<path d="M394 711.5 C396.63 711.47 404.53 711.3 409.8 711.3 C415.07 711.3 422.53 711.22 425.6 711.5 C428.67 711.78 427.67 712.33 428.2 713 C428.73 713.67 429.13 713.17 428.8 715.5 C428.47 717.83 427.03 724.67 426.2 727 C425.37 729.33 426.5 729.05 423.8 729.5 C421.1 729.95 414.6 729.7 410 729.7 C405.4 729.7 398.9 729.95 396.2 729.5 C393.5 729.05 394.63 729.33 393.8 727 C392.97 724.67 391.53 717.83 391.2 715.5 C390.87 713.17 391.33 713.67 391.8 713 C392.27 712.33 393.63 711.75 394 711.5 Z" fill="none" stroke="#1a1a1a" stroke-width="1.3" />
<circle cx="381" cy="721" r="5.6" fill="#fff" stroke="#1a1a1a" stroke-width="1.6" />
<circle cx="381" cy="721" r="3.1" fill="none" stroke="#1a1a1a" stroke-width="1.2" />
<circle cx="438.5" cy="721" r="5.6" fill="#fff" stroke="#1a1a1a" stroke-width="1.6" />
<circle cx="438.5" cy="721" r="3.1" fill="none" stroke="#1a1a1a" stroke-width="1.2" />
<circle cx="397" cy="718" r="1.35" fill="none" stroke="#1a1a1a" stroke-width="1" />
<circle cx="403.5" cy="718" r="1.35" fill="none" stroke="#1a1a1a" stroke-width="1" />
<circle cx="409.8" cy="718" r="1.35" fill="none" stroke="#1a1a1a" stroke-width="1" />
<circle cx="416.2" cy="718" r="1.35" fill="none" stroke="#1a1a1a" stroke-width="1" />
<circle cx="422.5" cy="718" r="1.35" fill="none" stroke="#1a1a1a" stroke-width="1" />
<circle cx="400" cy="724" r="1.35" fill="none" stroke="#1a1a1a" stroke-width="1" />
<circle cx="406.5" cy="724" r="1.35" fill="none" stroke="#1a1a1a" stroke-width="1" />
<circle cx="412.8" cy="724" r="1.35" fill="none" stroke="#1a1a1a" stroke-width="1" />
<circle cx="419.2" cy="724" r="1.35" fill="none" stroke="#1a1a1a" stroke-width="1" />
<path d="M494.16 709.13 C497.27 709.05 506.6 708.66 512.82 708.66 C519.04 708.66 527.72 708.55 531.49 709.13 C535.26 709.71 534.41 711.15 535.45 712.16 C536.5 713.17 536.31 714.69 537.79 715.2 C539.27 715.7 542.61 714.73 544.32 715.2 C546.03 715.66 547.35 717.02 548.05 718 C548.75 718.97 548.52 719.98 548.52 721.03 C548.52 722.08 548.75 723.32 548.05 724.3 C547.35 725.27 546.11 726.43 544.32 726.86 C542.53 727.29 538.95 726.32 537.32 726.86 C535.69 727.41 535.77 729.31 534.52 730.13 C533.28 730.94 533.47 731.45 529.86 731.76 C526.24 732.07 518.5 731.99 512.82 731.99 C507.15 731.99 499.41 732.07 495.79 731.76 C492.17 731.45 492.37 730.94 491.12 730.13 C489.88 729.31 489.96 727.41 488.32 726.86 C486.69 726.32 483.11 727.29 481.33 726.86 C479.54 726.43 478.37 725.27 477.59 724.3 C476.81 723.32 476.66 722.08 476.66 721.03 C476.66 719.98 476.81 718.97 477.59 718 C478.37 717.02 479.61 715.66 481.33 715.2 C483.04 714.73 486.38 715.7 487.86 715.2 C489.34 714.69 489.14 713.17 490.19 712.16 C491.24 711.15 493.5 709.64 494.16 709.13 Z" fill="none" stroke="#1a1a1a" stroke-width="1.3" />
<path d="M495.32 711.46 C498.24 711.39 506.99 711 512.82 711 C518.66 711 526.94 711.07 530.32 711.46 C533.71 711.85 532.73 712.32 533.12 713.33 C533.51 714.34 533.12 715.27 532.66 717.53 C532.19 719.78 531.26 724.88 530.32 726.86 C529.39 728.85 529.97 728.96 527.06 729.43 C524.14 729.9 517.57 729.66 512.82 729.66 C508.08 729.66 501.51 729.9 498.59 729.43 C495.67 728.96 496.26 728.85 495.32 726.86 C494.39 724.88 493.46 719.78 492.99 717.53 C492.52 715.27 492.14 714.34 492.52 713.33 C492.91 712.32 494.86 711.77 495.32 711.46 Z" fill="none" stroke="#1a1a1a" stroke-width="1.2" />
<path d="M487.86 717.06 C486.92 717.06 483.66 716.67 482.26 717.06 C480.86 717.45 479.96 718.73 479.46 719.4 C478.95 720.06 479.23 720.45 479.23 721.03 C479.23 721.61 478.95 722.23 479.46 722.9 C479.96 723.56 480.7 724.65 482.26 725 C483.81 725.35 487.7 725 488.79 725" fill="none" stroke="#1a1a1a" stroke-width="0.9" />
<path d="M537.79 717.06 C538.72 717.06 541.99 716.67 543.39 717.06 C544.79 717.45 545.68 718.73 546.19 719.4 C546.69 720.06 546.42 720.45 546.42 721.03 C546.42 721.61 546.69 722.23 546.19 722.9 C545.68 723.56 544.94 724.65 543.39 725 C541.83 725.35 537.94 725 536.85 725" fill="none" stroke="#1a1a1a" stroke-width="0.9" />
<circle cx="483.2" cy="721" r="3.2" fill="#fff" stroke="#1a1a1a" stroke-width="1.2" />
<circle cx="540.8" cy="721" r="3.2" fill="#fff" stroke="#1a1a1a" stroke-width="1.2" />
<text x="390.3" y="755.8" font-size="8.4" font-family="'Liberation Serif','Noto Serif CJK SC',serif" fill="#222" textLength="24" lengthAdjust="spacingAndGlyphs" font-weight="500" >编码器1</text>
<text x="306" y="815.2" font-size="7.9" font-family="'Liberation Serif','Noto Serif CJK SC',serif" fill="#222" textLength="63" lengthAdjust="spacingAndGlyphs" font-style="italic" >AC 200V-240V/50-60Hz</text>
<path d="M306.4 826 L306.4 835" fill="none" stroke="#1a1a1a" stroke-width="1.3" />
<path d="M321 826 L321 835" fill="none" stroke="#1a1a1a" stroke-width="1.3" />
<path d="M355.4 826 L355.4 835" fill="none" stroke="#1a1a1a" stroke-width="1.3" />
<path d="M370.4 826 L370.4 835" fill="none" stroke="#1a1a1a" stroke-width="1.3" />
<path d="M484.4 826 L484.4 835" fill="none" stroke="#444" stroke-width="0.8" />
<path d="M496.4 826 L496.4 835" fill="none" stroke="#444" stroke-width="0.8" />
<path d="M508.6 826 L508.6 835" fill="none" stroke="#444" stroke-width="0.8" />
<rect x="298" y="819" width="16" height="7.1" rx="1" fill="#fff" stroke="#1a1a1a" stroke-width="1.3" />
<text x="306" y="825" font-size="6.6" font-family="'Liberation Serif','Noto Serif CJK SC',serif" fill="#222" text-anchor="middle" textLength="8.62" lengthAdjust="spacingAndGlyphs" font-weight="500" >L1C</text>
<rect x="315" y="819" width="15.2" height="7.1" rx="1" fill="#fff" stroke="#1a1a1a" stroke-width="1.3" />
<text x="322.6" y="825" font-size="6.6" font-family="'Liberation Serif','Noto Serif CJK SC',serif" fill="#222" text-anchor="middle" textLength="8.62" lengthAdjust="spacingAndGlyphs" font-weight="500" >L2C</text>
<rect x="331.2" y="819" width="15" height="7.1" rx="1" fill="#fff" stroke="#1a1a1a" stroke-width="1.3" />
<text x="338.7" y="825" font-size="6.6" font-family="'Liberation Serif','Noto Serif CJK SC',serif" fill="#222" text-anchor="middle" textLength="5.17" lengthAdjust="spacingAndGlyphs" font-weight="500" >L1</text>
<rect x="347.2" y="819" width="15" height="7.1" rx="1" fill="#fff" stroke="#1a1a1a" stroke-width="1.3" />
<text x="354.7" y="825" font-size="6.6" font-family="'Liberation Serif','Noto Serif CJK SC',serif" fill="#222" text-anchor="middle" textLength="5.17" lengthAdjust="spacingAndGlyphs" font-weight="500" >L2</text>
<rect x="363.2" y="819" width="15" height="7.1" rx="1" fill="#fff" stroke="#1a1a1a" stroke-width="1.3" />
<text x="370.7" y="825" font-size="6.6" font-family="'Liberation Serif','Noto Serif CJK SC',serif" fill="#222" text-anchor="middle" textLength="5.17" lengthAdjust="spacingAndGlyphs" font-weight="500" >L3</text>
<rect x="395.6" y="819" width="15.4" height="7.1" rx="1" fill="#fff" stroke="#1a1a1a" stroke-width="1.3" />
<text x="403.3" y="825" font-size="6.6" font-family="'Liberation Serif','Noto Serif CJK SC',serif" fill="#222" text-anchor="middle" textLength="2.99" lengthAdjust="spacingAndGlyphs" font-weight="500" >B</text>
<rect x="412" y="819" width="15.2" height="7.1" rx="1" fill="#fff" stroke="#1a1a1a" stroke-width="1.3" />
<text x="419.6" y="825" font-size="6.6" font-family="'Liberation Serif','Noto Serif CJK SC',serif" fill="#222" text-anchor="middle" textLength="2.99" lengthAdjust="spacingAndGlyphs" font-weight="500" >P</text>
<rect x="474.4" y="819" width="14.6" height="7.1" rx="1" fill="#fff" stroke="#1a1a1a" stroke-width="1.3" />
<text x="481.7" y="825" font-size="6.6" font-family="'Liberation Serif','Noto Serif CJK SC',serif" fill="#222" text-anchor="middle" textLength="3.91" lengthAdjust="spacingAndGlyphs" font-weight="500" >W</text>
<rect x="490" y="819" width="13.2" height="7.1" rx="1" fill="#fff" stroke="#1a1a1a" stroke-width="1.3" />
<text x="496.6" y="825" font-size="6.6" font-family="'Liberation Serif','Noto Serif CJK SC',serif" fill="#222" text-anchor="middle" textLength="2.99" lengthAdjust="spacingAndGlyphs" font-weight="500" >V</text>
<rect x="504.2" y="819" width="14" height="7.1" rx="1" fill="#fff" stroke="#1a1a1a" stroke-width="1.3" />
<text x="511.2" y="825" font-size="6.6" font-family="'Liberation Serif','Noto Serif CJK SC',serif" fill="#222" text-anchor="middle" textLength="2.99" lengthAdjust="spacingAndGlyphs" font-weight="500" >U</text>
<rect x="472.8" y="798.2" width="46.8" height="13.6" rx="1.2" fill="#fff" stroke="#1a1a1a" stroke-width="1.6" />
<text x="494.8" y="808.4" font-size="9" font-family="'Liberation Serif','Noto Serif CJK SC',serif" fill="#333" text-anchor="middle" textLength="15.6" lengthAdjust="spacingAndGlyphs" >S3ROC</text>
<rect x="564.6" y="798.2" width="47" height="14.2" rx="1.2" fill="#fff" stroke="#1a1a1a" stroke-width="1.3" />
<path d="M594.2 187.3 C594.35 184.2 594.5 174.77 595.1 168.7 C595.7 162.63 596.47 155.95 597.8 150.9 C599.13 145.85 600.43 142.1 603.1 138.4 C605.77 134.7 609.95 131 613.8 128.7 C617.65 126.4 622.05 125.4 626.2 124.6 C630.35 123.8 633.95 123.52 638.7 123.9 C643.45 124.28 649.08 125.07 654.7 126.9 C660.32 128.73 667.07 131.78 672.4 134.9 C677.73 138.02 682.55 141.45 686.7 145.6 C690.85 149.75 694.05 154.18 697.3 159.8 C700.55 165.42 703.82 172.78 706.2 179.3 C708.58 185.82 710.12 191.18 711.6 198.9 C713.08 206.62 714.22 216.72 715.1 225.6 C715.98 234.48 716.45 241.83 716.9 252.2 C717.35 262.57 717.55 278.17 717.8 287.8 C718.05 297.43 718.03 302.3 718.4 310 C718.77 317.7 718.9 325.33 720 334 C721.1 342.67 722.5 353.67 725 362 C727.5 370.33 730 377.67 735 384 C740 390.33 748.33 396.43 755 400 C761.67 403.57 768.33 404.4 775 405.4 C781.67 406.4 787.67 406.4 795 406 C802.33 405.6 811.67 404.5 819 403 C826.33 401.5 833.67 399.5 839 397 C844.33 394.5 848 391.17 851 388 C854 384.83 856.33 381.33 857 378 C857.67 374.67 856.33 371.33 855 368 C853.67 364.67 850.92 360.92 849 358 C847.08 355.08 844.42 351.75 843.5 350.5" fill="none" stroke="#1a1a1a" stroke-width="3.4" stroke-linecap="butt"/>
<path d="M594.2 187.3 C594.35 184.2 594.5 174.77 595.1 168.7 C595.7 162.63 596.47 155.95 597.8 150.9 C599.13 145.85 600.43 142.1 603.1 138.4 C605.77 134.7 609.95 131 613.8 128.7 C617.65 126.4 622.05 125.4 626.2 124.6 C630.35 123.8 633.95 123.52 638.7 123.9 C643.45 124.28 649.08 125.07 654.7 126.9 C660.32 128.73 667.07 131.78 672.4 134.9 C677.73 138.02 682.55 141.45 686.7 145.6 C690.85 149.75 694.05 154.18 697.3 159.8 C700.55 165.42 703.82 172.78 706.2 179.3 C708.58 185.82 710.12 191.18 711.6 198.9 C713.08 206.62 714.22 216.72 715.1 225.6 C715.98 234.48 716.45 241.83 716.9 252.2 C717.35 262.57 717.55 278.17 717.8 287.8 C718.05 297.43 718.03 302.3 718.4 310 C718.77 317.7 718.9 325.33 720 334 C721.1 342.67 722.5 353.67 725 362 C727.5 370.33 730 377.67 735 384 C740 390.33 748.33 396.43 755 400 C761.67 403.57 768.33 404.4 775 405.4 C781.67 406.4 787.67 406.4 795 406 C802.33 405.6 811.67 404.5 819 403 C826.33 401.5 833.67 399.5 839 397 C844.33 394.5 848 391.17 851 388 C854 384.83 856.33 381.33 857 378 C857.67 374.67 856.33 371.33 855 368 C853.67 364.67 850.92 360.92 849 358 C847.08 355.08 844.42 351.75 843.5 350.5" fill="none" stroke="#fff" stroke-width="1.2" stroke-linecap="butt"/>
<path d="M594.2 187 L574.5 208 L574.5 220" fill="none" stroke="#1a1a1a" stroke-width="1" />
<path d="M594.2 187 L578.4 208 L578.4 220" fill="none" stroke="#1a1a1a" stroke-width="1" />
<path d="M594.2 187 L582.3 208 L582.3 220" fill="none" stroke="#1a1a1a" stroke-width="1" />
<path d="M594.2 187 L586.2 208 L586.2 220" fill="none" stroke="#1a1a1a" stroke-width="1" />
<path d="M594.2 187 L590.1 208 L590.1 220" fill="none" stroke="#1a1a1a" stroke-width="1" />
<path d="M594.2 187 L594 208 L594 220" fill="none" stroke="#1a1a1a" stroke-width="1" />
<path d="M594.2 187 L597.9 208 L597.9 220" fill="none" stroke="#1a1a1a" stroke-width="1" />
<path d="M594.2 187 L601.8 208 L601.8 220" fill="none" stroke="#1a1a1a" stroke-width="1" />
<path d="M594.2 187 L605.7 208 L605.7 220" fill="none" stroke="#1a1a1a" stroke-width="1" />
<path d="M594.2 187 L609.6 208 L609.6 220" fill="none" stroke="#1a1a1a" stroke-width="1" />
<path d="M594.2 187 L613.5 208 L613.5 220" fill="none" stroke="#1a1a1a" stroke-width="1" />
<rect x="570" y="220" width="49" height="2.6" rx="0" fill="#1a1a1a" stroke="#1a1a1a" stroke-width="1" />
<rect x="571.6" y="222.6" width="46.4" height="11.6" rx="0" fill="#fff" stroke="#1a1a1a" stroke-width="1.1" />
<path d="M573.4 234 L573.4 226.6 Q574.85 224.6 576.3 226.6 L576.3 234" fill="none" stroke="#1a1a1a" stroke-width="1" />
<path d="M577.85 234 L577.85 226.6 Q579.3 224.6 580.75 226.6 L580.75 234" fill="none" stroke="#1a1a1a" stroke-width="1" />
<path d="M582.3 234 L582.3 226.6 Q583.75 224.6 585.2 226.6 L585.2 234" fill="none" stroke="#1a1a1a" stroke-width="1" />
<path d="M586.75 234 L586.75 226.6 Q588.2 224.6 589.65 226.6 L589.65 234" fill="none" stroke="#1a1a1a" stroke-width="1" />
<path d="M591.2 234 L591.2 226.6 Q592.65 224.6 594.1 226.6 L594.1 234" fill="none" stroke="#1a1a1a" stroke-width="1" />
<path d="M595.65 234 L595.65 226.6 Q597.1 224.6 598.55 226.6 L598.55 234" fill="none" stroke="#1a1a1a" stroke-width="1" />
<path d="M600.1 234 L600.1 226.6 Q601.55 224.6 603 226.6 L603 234" fill="none" stroke="#1a1a1a" stroke-width="1" />
<path d="M604.55 234 L604.55 226.6 Q606 224.6 607.45 226.6 L607.45 234" fill="none" stroke="#1a1a1a" stroke-width="1" />
<path d="M609 234 L609 226.6 Q610.45 224.6 611.9 226.6 L611.9 234" fill="none" stroke="#1a1a1a" stroke-width="1" />
<path d="M613.45 234 L613.45 226.6 Q614.9 224.6 616.35 226.6 L616.35 234" fill="none" stroke="#1a1a1a" stroke-width="1" />
<rect x="558.6" y="234.6" width="67.4" height="14.8" rx="0" fill="#fff" stroke="#1a1a1a" stroke-width="1.3" />
<rect x="560.8" y="236.6" width="63" height="10.6" rx="0" fill="none" stroke="#1a1a1a" stroke-width="0.8" />
<circle cx="566.4" cy="241" r="1.3" fill="#1a1a1a"/>
<circle cx="572.18" cy="241" r="1.3" fill="#1a1a1a"/>
<circle cx="577.96" cy="241" r="1.3" fill="#1a1a1a"/>
<circle cx="583.74" cy="241" r="1.3" fill="#1a1a1a"/>
<circle cx="589.52" cy="241" r="1.3" fill="#1a1a1a"/>
<circle cx="595.3" cy="241" r="1.3" fill="#1a1a1a"/>
<circle cx="601.08" cy="241" r="1.3" fill="#1a1a1a"/>
<circle cx="606.86" cy="241" r="1.3" fill="#1a1a1a"/>
<circle cx="612.64" cy="241" r="1.3" fill="#1a1a1a"/>
<circle cx="618.42" cy="241" r="1.3" fill="#1a1a1a"/>
<path d="M774 105.6 L789.5 91 Q793 88.6 796.5 91 L813 105.6" fill="#fff" stroke="#1a1a1a" stroke-width="1.6" />
<path d="M777.5 105.6 L790.5 93.2 Q793 91.4 795.5 93.2 L809.5 105.6" fill="none" stroke="#1a1a1a" stroke-width="0.9" />
<path d="M791.2 99.8 A3 3 0 1 1 794.8 99.8 L794.8 104.4 L791.2 104.4 Z" fill="none" stroke="#1a1a1a" stroke-width="0.9" />
<path d="M739.5 105.6 L848 105.6 Q860 105.6 860 117.6 L860 164 Q860 172 863.5 177.6 L847.4 210.3 Q843 216 843 226 L843 342 Q843 352 833 353 Q794 356 755 353 Q745 352 745 342 L745 232 Q745 212 735 198 Q727.4 187 727.4 176 L727.4 117.6 Q727.4 105.6 739.5 105.6 Z" fill="#fff" stroke="#1a1a1a" stroke-width="1.7" />
<path d="M740.5 107.6 L847 107.6 Q858 107.6 858 118.6 L858 164 Q858 172 861.5 178 M747 232 Q747 212 737 198 Q729.4 187 729.4 176 L729.4 118.6 Q729.4 107.6 740.5 107.6" fill="none" stroke="#1a1a1a" stroke-width="1.3" />
<rect x="745.6" y="120.2" width="96.4" height="55.2" rx="0" fill="none" stroke="#1a1a1a" stroke-width="1.4" />
<rect x="747" y="121.6" width="93.6" height="52.4" rx="0" fill="none" stroke="#1a1a1a" stroke-width="0.8" stroke-dasharray="3.4 1.8"/>
<path d="M731.5 188.9 L834 188.9" fill="none" stroke="#1a1a1a" stroke-width="1.6" />
<path d="M733 191.6 L832 191.6" fill="none" stroke="#1a1a1a" stroke-width="0.8" />
<path d="M748.8 340 L748.8 196.6 Q748.8 193.2 752.2 193.2 L835 193.2 Q839.4 193.2 839.4 197 L839.4 340 Q839.4 348.4 831 349 Q794 351.6 757 349 Q748.8 348.4 748.8 340 Z" fill="none" stroke="#1a1a1a" stroke-width="1.2" />
<circle cx="855.8" cy="194.4" r="16.8" fill="#fff"/>
<rect x="734" y="113" width="119" height="70" rx="9" fill="none" stroke="#1a1a1a" stroke-width="1.5" />
<path d="M863.52 178.58 A17.6 17.6 0 1 1 838.2 194.4" fill="none" stroke="#1a1a1a" stroke-width="1.9" />
<path d="M838.2 194.4 L838.2 193 Q838 188.8 833.6 188.8" fill="none" stroke="#1a1a1a" stroke-width="1.7" />
<circle cx="855.8" cy="194.4" r="15.1" fill="none" stroke="#1a1a1a" stroke-width="0.9" />
<circle cx="855.8" cy="194.4" r="6.4" fill="#fff" stroke="#1a1a1a" stroke-width="0.9" />
<circle cx="855.8" cy="194.4" r="4.6" fill="none" stroke="#1a1a1a" stroke-width="1.5" />
<path d="M865.2 197.82 A10 10 0 0 1 854.06 204.25" fill="none" stroke="#1a1a1a" stroke-width="1.1" />
<path d="M848.14 200.83 A10 10 0 0 1 848.14 187.97" fill="none" stroke="#1a1a1a" stroke-width="1.1" />
<path d="M854.06 184.55 A10 10 0 0 1 865.2 190.98" fill="none" stroke="#1a1a1a" stroke-width="1.1" />
<path d="M843 245.7 L843 303.8" fill="none" stroke="#fff" stroke-width="3" />
<path d="M843 245.7 C845.6 248.2 845.6 254.2 843 257.32 C845.6 259.82 845.6 265.82 843 268.94 C845.6 271.44 845.6 277.44 843 280.56 C845.6 283.06 845.6 289.06 843 292.18 C845.6 294.68 845.6 300.68 843 303.8" fill="none" stroke="#1a1a1a" stroke-width="1.7" />
<path d="M746 228 L746 262" fill="none" stroke="#1a1a1a" stroke-width="1.6" stroke-dasharray="1.2 1.2"/>
<path d="M835.6 346.4 L842.4 339.6 L848.6 345.8 L841.8 352.6 Z" fill="#fff" stroke="#1a1a1a" stroke-width="1.1" />
<path d="M831 351.4 L836.6 357 L841.8 352.6" fill="none" stroke="#1a1a1a" stroke-width="1" />
<rect x="418.7" y="754.3" width="4.6" height="6.7" rx="1" fill="#fff" stroke="#1a1a1a" stroke-width="1.2" />
<rect x="415.3" y="763.7" width="8.3" height="7.3" rx="0" fill="#fff" stroke="#1a1a1a" stroke-width="1.3" />
<rect x="418.7" y="771" width="4" height="8" rx="0" fill="#fff" stroke="#1a1a1a" stroke-width="1.2" />
<path d="M417.3 779.8 L423.6 779.8" fill="none" stroke="#1a1a1a" stroke-width="1.5" />
<rect x="456.7" y="754.3" width="4.6" height="6.7" rx="1" fill="#fff" stroke="#1a1a1a" stroke-width="1.2" />
<rect x="456.4" y="763.7" width="8.3" height="7.3" rx="0" fill="#fff" stroke="#1a1a1a" stroke-width="1.3" />
<rect x="457.3" y="771" width="4" height="8" rx="0" fill="#fff" stroke="#1a1a1a" stroke-width="1.2" />
<path d="M456.4 779.8 L462.7 779.8" fill="none" stroke="#1a1a1a" stroke-width="1.5" />
<path d="M424.7 760.4 L424.7 755.5 Q424.7 752.3 428 752.3 L452 752.3 Q455.3 752.3 455.3 755.5 L455.3 760.4 Z" fill="#fff" stroke="#1a1a1a" stroke-width="1.3" />
<path d="M429.2 753.6 L429.2 758.6" fill="none" stroke="#1a1a1a" stroke-width="1.4" />
<path d="M433.6 753.6 L433.6 758.6" fill="none" stroke="#1a1a1a" stroke-width="1.4" />
<path d="M438 753.6 L438 758.6" fill="none" stroke="#1a1a1a" stroke-width="1.4" />
<path d="M442.4 753.6 L442.4 758.6" fill="none" stroke="#1a1a1a" stroke-width="1.4" />
<path d="M446.8 753.6 L446.8 758.6" fill="none" stroke="#1a1a1a" stroke-width="1.4" />
<path d="M451.2 753.6 L451.2 758.6" fill="none" stroke="#1a1a1a" stroke-width="1.4" />
<path d="M426 758.6 L454 758.6" fill="none" stroke="#1a1a1a" stroke-width="0.9" />
<path d="M414.7 761 L464.9 761" fill="none" stroke="#1a1a1a" stroke-width="1.5" />
<rect x="424" y="763" width="31.3" height="55.4" rx="0" fill="#fff" stroke="#1a1a1a" stroke-width="1.3" />
<path d="M424 761 L424 763" fill="none" stroke="#1a1a1a" stroke-width="1.2" />
<path d="M455.3 761 L455.3 763" fill="none" stroke="#1a1a1a" stroke-width="1.2" />
<rect x="431.3" y="759" width="16.7" height="4" rx="0" fill="#fff" stroke="#1a1a1a" stroke-width="1.1" />
<rect x="430.8" y="772.3" width="17.9" height="11.4" rx="0" fill="none" stroke="#1a1a1a" stroke-width="1.4" />
<path d="M424.6 803.7 L427.2 798.6 L432.1 798.6 L434.7 803.7 L432.1 808.8 L427.2 808.8 Z" fill="#fff" stroke="#1a1a1a" stroke-width="1.2" />
<circle cx="428.3" cy="803.7" r="2" fill="none" stroke="#1a1a1a" stroke-width="1.2" />
<path d="M444.7 803.7 L447.3 798.6 L452.4 798.6 L455 803.7 L452.4 808.8 L447.3 808.8 Z" fill="#fff" stroke="#1a1a1a" stroke-width="1.2" />
<circle cx="450.6" cy="803.7" r="2" fill="none" stroke="#1a1a1a" stroke-width="1.2" />
<rect x="432" y="819" width="15" height="3" rx="0" fill="#fff" stroke="#1a1a1a" stroke-width="1.1" />
<path d="M440 822.4 L444 880  C444.5 886.67 446.1 909.17 447 920 C447.9 930.83 448.13 939.07 449.4 945 C450.67 950.93 452.43 953.4 454.6 955.6 C456.77 957.8 459.33 958.4 462.4 958.2 C465.47 958 469.23 956.93 473 954.4 C476.77 951.87 480.6 946.57 485 943 C489.4 939.43 495.5 934.73 499.4 933 C503.3 931.27 506.2 931.83 508.4 932.6 C510.6 933.37 511.82 935.2 512.6 937.6 C513.38 940 513.02 945.43 513.1 947" fill="none" stroke="#1a1a1a" stroke-width="7.3" stroke-linecap="butt"/>
<path d="M440 822.4 L444 880  C444.5 886.67 446.1 909.17 447 920 C447.9 930.83 448.13 939.07 449.4 945 C450.67 950.93 452.43 953.4 454.6 955.6 C456.77 957.8 459.33 958.4 462.4 958.2 C465.47 958 469.23 956.93 473 954.4 C476.77 951.87 480.6 946.57 485 943 C489.4 939.43 495.5 934.73 499.4 933 C503.3 931.27 506.2 931.83 508.4 932.6 C510.6 933.37 511.82 935.2 512.6 937.6 C513.38 940 513.02 945.43 513.1 947" fill="none" stroke="#fff" stroke-width="4.7" stroke-linecap="butt"/>
<path d="M408.4 826 L408.4 946.7" fill="none" stroke="#1a1a1a" stroke-width="1.2" />
<path d="M414.8 826 L414.8 946.7" fill="none" stroke="#1a1a1a" stroke-width="1.2" />
<path d="M399.8 946.7 L401.2 939.6 L420.6 939.6 L421.6 946.7 L421.6 1003 L420.6 1011.4 L401.2 1011.4 L399.8 1003 Z" fill="none" stroke="#1a1a1a" stroke-width="1.9" />
<path d="M399.8 946.7 L421.6 946.7" fill="none" stroke="#1a1a1a" stroke-width="1.5" />
<path d="M399.8 1003 L421.6 1003" fill="none" stroke="#1a1a1a" stroke-width="1.5" />
<path d="M422.3 941 L422.3 1010" fill="none" stroke="#1a1a1a" stroke-width="1" />
<path d="M409.4 939.6 L409.4 942 Q411.3 944.6 413.3 942 L413.3 939.6" fill="#fff" stroke="#1a1a1a" stroke-width="1.3" />
<path d="M409.4 1011.4 L409.4 1008.6 Q411.3 1006 413.3 1008.6 L413.3 1011.4" fill="#fff" stroke="#1a1a1a" stroke-width="1.3" />
<path d="M409.6 939.4 L413.1 939.4" fill="none" stroke="#fff" stroke-width="2.2" />
<path d="M409.6 1011.6 L413.1 1011.6" fill="none" stroke="#fff" stroke-width="2.2" />
<text x="385.3" y="955.9" font-size="12" font-family="'Liberation Serif','Noto Serif CJK SC',serif" fill="#333" text-anchor="middle" textLength="10.2" lengthAdjust="spacingAndGlyphs" font-weight="500" >制</text>
<text x="385.3" y="972.5" font-size="12" font-family="'Liberation Serif','Noto Serif CJK SC',serif" fill="#333" text-anchor="middle" textLength="10.2" lengthAdjust="spacingAndGlyphs" font-weight="500" >动</text>
<text x="385.3" y="988.6" font-size="12" font-family="'Liberation Serif','Noto Serif CJK SC',serif" fill="#333" text-anchor="middle" textLength="10.2" lengthAdjust="spacingAndGlyphs" font-weight="500" >电</text>
<text x="385.3" y="1003.6" font-size="12" font-family="'Liberation Serif','Noto Serif CJK SC',serif" fill="#333" text-anchor="middle" textLength="10.2" lengthAdjust="spacingAndGlyphs" font-weight="500" >阻</text>
<path d="M484.4 826 L484.4 852 L496.4 885" fill="none" stroke="#444" stroke-width="0.8" />
<path d="M496.4 826 L496.4 885" fill="none" stroke="#444" stroke-width="0.8" />
<path d="M508.6 826 L508.6 852 L496.4 885" fill="none" stroke="#444" stroke-width="0.8" />
<path d="M478.5 861.5 L496.4 885" fill="none" stroke="#444" stroke-width="0.8" />
<path d="M496.6 884 C496.67 884.33 496.5 883.73 497 886 C497.5 888.27 498.03 893.93 499.6 897.6 C501.17 901.27 502.67 904.87 506.4 908 C510.13 911.13 515.4 913.8 522 916.4 C528.6 919 539.27 921.33 546 923.6 C552.73 925.87 557.9 927.1 562.4 930 C566.9 932.9 570.8 937.17 573 941 C575.2 944.83 575.17 949 575.6 953 C576.03 957 575.6 963 575.6 965" fill="none" stroke="#1a1a1a" stroke-width="5.8" stroke-linecap="butt"/>
<path d="M496.6 884 C496.67 884.33 496.5 883.73 497 886 C497.5 888.27 498.03 893.93 499.6 897.6 C501.17 901.27 502.67 904.87 506.4 908 C510.13 911.13 515.4 913.8 522 916.4 C528.6 919 539.27 921.33 546 923.6 C552.73 925.87 557.9 927.1 562.4 930 C566.9 932.9 570.8 937.17 573 941 C575.2 944.83 575.17 949 575.6 953 C576.03 957 575.6 963 575.6 965" fill="none" stroke="#fff" stroke-width="3.3" stroke-linecap="butt"/>
<path d="M520 881.6 L529 881.6 L524.5 868.6 Z" fill="#1a1a1a" stroke="#1a1a1a" stroke-width="0.6" />
<path d="M524.5 881 L524.5 901.8 L635.5 901.8 L635.5 955.7" fill="none" stroke="#444" stroke-width="1" />
<circle cx="635.5" cy="955.7" r="13.6" fill="none" stroke="#1a1a1a" stroke-width="1.3" />
<path d="M622.4 955.7 L648.6 955.7" fill="none" stroke="#1a1a1a" stroke-width="1.2" />
<path d="M625.4 960.6 L645.4 960.6" fill="none" stroke="#1a1a1a" stroke-width="1.2" />
<path d="M629 965.3 L642 965.3" fill="none" stroke="#1a1a1a" stroke-width="1.2" />
<text x="658.2" y="934.7" font-size="11.2" font-family="'Liberation Sans','Noto Sans CJK SC',sans-serif" fill="#1a1a1a" text-anchor="middle" font-weight="500" >接</text>
<text x="658.2" y="950.2" font-size="11.2" font-family="'Liberation Sans','Noto Sans CJK SC',sans-serif" fill="#1a1a1a" text-anchor="middle" font-weight="500" >大</text>
<text x="658.2" y="965.2" font-size="11.2" font-family="'Liberation Sans','Noto Sans CJK SC',sans-serif" fill="#1a1a1a" text-anchor="middle" font-weight="500" >地</text>
<path d="M505.6 946.2 L519.4 946.2 L521.7 968.3 L519.7 968.3 L519.7 980.6 L505.6 980.6 L505.6 968.3 L503.9 968.3 Z" fill="#fff" stroke="#1a1a1a" stroke-width="1.3" />
<path d="M505.6 950.6 L510 950.6" fill="none" stroke="#1a1a1a" stroke-width="1" />
<path d="M510 946.2 L510 950.6 L508.6 961 L510 961 L510 980.6" fill="none" stroke="#1a1a1a" stroke-width="1" />
<path d="M504.3 961 L508.6 961" fill="none" stroke="#1a1a1a" stroke-width="1" />
<path d="M503.9 967.4 L510 967.4" fill="none" stroke="#1a1a1a" stroke-width="1" />
<path d="M511.8 962.2 L511.8 968.6" fill="none" stroke="#1a1a1a" stroke-width="1.5" />
<path d="M516.6 962.2 L516.6 968.6" fill="none" stroke="#1a1a1a" stroke-width="1.5" />
<path d="M510 968.6 L519.7 968.6" fill="none" stroke="#1a1a1a" stroke-width="0.9" />
<rect x="513" y="970.6" width="3.6" height="3.4" rx="0" fill="none" stroke="#1a1a1a" stroke-width="1" />
<rect x="507.4" y="988.1" width="10.4" height="5.4" rx="0" fill="#1a1a1a" stroke="#1a1a1a" stroke-width="0.5" />
<path d="M506.6 993.4 L518.6 993.4 L518.9 1011.7 L506.1 1011.7 Z" fill="#fff" stroke="#1a1a1a" stroke-width="1.3" />
<path d="M506.4 1000.6 L518.8 1000.6" fill="none" stroke="#1a1a1a" stroke-width="1.1" />
<path d="M510 993.4 L510 1000.6" fill="none" stroke="#1a1a1a" stroke-width="1.2" />
<path d="M513.3 993.4 L513.3 1000.6" fill="none" stroke="#1a1a1a" stroke-width="1.2" />
<path d="M516.6 993.4 L516.6 1000.6" fill="none" stroke="#1a1a1a" stroke-width="1.2" />
<path d="M518.9 993.6 L520.6 994.4 Q521.9 999 521.6 1004.6 L518.9 1005.4 Z" fill="#1a1a1a" stroke="#1a1a1a" stroke-width="0.8" />
<rect x="510" y="1011.7" width="5" height="4.9" rx="0" fill="#fff" stroke="#1a1a1a" stroke-width="1.1" />
<rect x="565" y="964.4" width="17.8" height="31.2" rx="0" fill="#fff" stroke="#1a1a1a" stroke-width="1.3" />
<path d="M571.1 964.4 L571.1 995.6" fill="none" stroke="#1a1a1a" stroke-width="1.1" />
<path d="M565 981.1 L571.1 981.1" fill="none" stroke="#1a1a1a" stroke-width="1" />
<path d="M565 982.8 L571.1 982.8" fill="none" stroke="#1a1a1a" stroke-width="1" />
<path d="M573.4 982.3 L581.6 982.3 L581 995 L572.8 995 Z" fill="none" stroke="#1a1a1a" stroke-width="1.2" />
<path d="M573.2 986.7 L581.4 986.7" fill="none" stroke="#1a1a1a" stroke-width="1" />
<rect x="573.9" y="1004.4" width="6.7" height="8.4" rx="0" fill="#1a1a1a" stroke="#1a1a1a" stroke-width="0.5" />
<path d="M576.1 1006 L576.1 1012.8" fill="none" stroke="#fff" stroke-width="0.9" />
<path d="M578.4 1006 L578.4 1012.8" fill="none" stroke="#fff" stroke-width="0.9" />
<path d="M573.2 1012.8 L581.1 1012.8 L580.4 1024.4 L572.8 1024.4 Z" fill="#fff" stroke="#1a1a1a" stroke-width="1.3" />
<path d="M581.1 1006 L582.8 1006.6 Q584.2 1012 583.6 1018.6 L581.1 1019.4 Z" fill="#1a1a1a" stroke="#1a1a1a" stroke-width="0.8" />
<rect x="574.6" y="1024.4" width="5.2" height="7.2" rx="0" fill="#fff" stroke="#1a1a1a" stroke-width="1.1" />
<text x="449" y="1008.4" font-size="10.8" font-family="'Liberation Serif','Noto Serif CJK SC',serif" fill="#222" textLength="43" lengthAdjust="spacingAndGlyphs" font-weight="500" >伺服电机</text>
<text x="449" y="1023.8" font-size="10.8" font-family="'Liberation Serif','Noto Serif CJK SC',serif" fill="#222" textLength="54" lengthAdjust="spacingAndGlyphs" font-weight="500" >编码器线缆</text>
<text x="589.3" y="999.8" font-size="10.8" font-family="'Liberation Serif','Noto Serif CJK SC',serif" fill="#222" textLength="42.8" lengthAdjust="spacingAndGlyphs" font-weight="500" >伺服电机</text>
<text x="589.3" y="1015" font-size="10.8" font-family="'Liberation Serif','Noto Serif CJK SC',serif" fill="#222" textLength="54.2" lengthAdjust="spacingAndGlyphs" font-weight="500" >主电路线缆</text>
<text x="651.9" y="1063.4" font-size="10.8" font-family="'Liberation Serif','Noto Serif CJK SC',serif" fill="#222" textLength="43" lengthAdjust="spacingAndGlyphs" font-weight="500" >伺服电机</text>
<text x="651.9" y="1078.4" font-size="10.8" font-family="'Liberation Serif','Noto Serif CJK SC',serif" fill="#222" textLength="32" lengthAdjust="spacingAndGlyphs" font-weight="500" >抱闸线</text>
<text x="87.3" y="1015.4" font-size="16.5" font-family="'Noto Serif CJK SC',serif" fill="#1a1a1a" textLength="82.5" lengthAdjust="spacingAndGlyphs" font-weight="600" >注意事项：</text>
<text x="87.3" y="1043.4" font-size="16.5" font-family="'Noto Serif CJK SC',serif" fill="#1a1a1a" textLength="247.5" lengthAdjust="spacingAndGlyphs" font-weight="600" >主回路电源为内部动力高压电源，</text>
<text x="87.3" y="1071" font-size="16.5" font-family="'Noto Serif CJK SC',serif" fill="#1a1a1a" textLength="148.5" lengthAdjust="spacingAndGlyphs" font-weight="600" >进电主电源线须使用</text>
<text x="236.1" y="1071" font-size="18" font-family="'Liberation Serif',serif" fill="#1a1a1a" textLength="7.45" lengthAdjust="spacingAndGlyphs" >3</text>
<text x="244.05" y="1071" font-size="16.5" font-family="'Noto Serif CJK SC',serif" fill="#1a1a1a" textLength="99" lengthAdjust="spacingAndGlyphs" font-weight="600" >芯多股铜电缆</text>
<text x="87.3" y="1098.6" font-size="16.5" font-family="'Noto Serif CJK SC',serif" fill="#1a1a1a" textLength="132" lengthAdjust="spacingAndGlyphs" font-weight="600" >线，单芯横截面积</text>
<text x="219.6" y="1098.6" font-size="18" font-family="'Liberation Serif',serif" fill="#1a1a1a" textLength="23.95" lengthAdjust="spacingAndGlyphs" >2.5</text>
<text x="244.05" y="1098.6" font-size="16.5" font-family="'Noto Serif CJK SC',serif" fill="#1a1a1a" textLength="99" lengthAdjust="spacingAndGlyphs" font-weight="600" >平方毫米，绝</text>
<text x="87.3" y="1126.2" font-size="16.5" font-family="'Noto Serif CJK SC',serif" fill="#1a1a1a" textLength="66" lengthAdjust="spacingAndGlyphs" font-weight="600" >缘耐压≥</text>
<text x="153.6" y="1126.2" font-size="18" font-family="'Liberation Serif',serif" fill="#1a1a1a" textLength="32.2" lengthAdjust="spacingAndGlyphs" >600V</text>
<text x="186.3" y="1126.2" font-size="16.5" font-family="'Noto Serif CJK SC',serif" fill="#1a1a1a" font-weight="600" >。</text>
<path d="M575.91 1033.56 C575.91 1035.63 576.12 1042.89 575.91 1046 C575.7 1049.11 575.61 1050.71 574.67 1052.22 C573.72 1053.73 572.74 1054.53 570.22 1055.07 C567.7 1055.6 564.89 1054.47 559.56 1055.42 C554.22 1056.37 541.78 1059.87 538.22 1060.76" fill="none" stroke="#1a1a1a" stroke-width="5.6" />
<path d="M575.91 1033.56 C575.91 1035.63 576.12 1042.89 575.91 1046 C575.7 1049.11 575.61 1050.71 574.67 1052.22 C573.72 1053.73 572.74 1054.53 570.22 1055.07 C567.7 1055.6 564.89 1054.47 559.56 1055.42 C554.22 1056.37 541.78 1059.87 538.22 1060.76" fill="none" stroke="#fff" stroke-width="3.2" />
<path d="M512.8 1020.22 C512.8 1023.63 513.01 1035.78 512.8 1040.67 C512.59 1045.56 512.5 1047.33 511.56 1049.56 C510.61 1051.78 509.04 1052.52 507.11 1054 C505.19 1055.48 501.19 1057.7 500 1058.44" fill="none" stroke="#1a1a1a" stroke-width="7.2" />
<path d="M512.8 1020.22 C512.8 1023.63 513.01 1035.78 512.8 1040.67 C512.59 1045.56 512.5 1047.33 511.56 1049.56 C510.61 1051.78 509.04 1052.52 507.11 1054 C505.19 1055.48 501.19 1057.7 500 1058.44" fill="none" stroke="#fff" stroke-width="4.6" />
<path d="M471.56 1082.44 L476.89 1068.22 L485.78 1056.67 L508 1056.67 L538.22 1062 L582.67 1063.24 L590.67 1064.13 L592.62 1068.22 L592.62 1126 L591.2 1133.11 L577.33 1139.33 L568.8 1140.22 L567.56 1136.31 L500 1131.33 L498.22 1132.22 L496.44 1131.33 L475.11 1128.67 L475.11 1117.11 L471.56 1117.11 Z" fill="#fff" stroke="#1a1a1a" stroke-width="1.4" />
<path d="M476.89 1068.22 L500 1072.67 L508 1059.87" fill="none" stroke="#1a1a1a" stroke-width="1.88" />
<path d="M477.78 1071.78 L499.47 1075.69" fill="none" stroke="#1a1a1a" stroke-width="1.25" />
<path d="M471.56 1082.44 L498.22 1084.58" fill="none" stroke="#1a1a1a" stroke-width="1.62" />
<path d="M476 1074.44 L476 1081.56" fill="none" stroke="#1a1a1a" stroke-width="1.25" />
<path d="M477.78 1068.76 L477.78 1081.91" fill="none" stroke="#1a1a1a" stroke-width="1.12" />
<path d="M498.58 1073.56 L497.87 1131.69" fill="none" stroke="#1a1a1a" stroke-width="1.62" />
<path d="M501.96 1072.67 L501.24 1131.33" fill="none" stroke="#1a1a1a" stroke-width="1.62" />
<path d="M500 1072.67 L501.96 1072.67" fill="none" stroke="#1a1a1a" stroke-width="1.25" />
<path d="M492.89 1084.22 L492.89 1089.56 L495.91 1089.56 L495.91 1084.22" fill="none" stroke="#1a1a1a" stroke-width="1.38" />
<path d="M475.11 1117.11 L473.33 1117.11 L473.33 1120.67 L475.11 1121.02" fill="none" stroke="#1a1a1a" stroke-width="1.25" />
<path d="M475.11 1122.98 L496.44 1126" fill="none" stroke="#1a1a1a" stroke-width="1.88" />
<path d="M496.44 1126 L496.44 1131.33" fill="none" stroke="#1a1a1a" stroke-width="1.25" />
<path d="M501.96 1071.96 L569.87 1076.76" fill="none" stroke="#1a1a1a" stroke-width="1.62" />
<path d="M501.96 1077.64 L568.8 1082.8" fill="none" stroke="#1a1a1a" stroke-width="1.88" />
<path d="M501.96 1082.8 L567.2 1088.31" fill="none" stroke="#1a1a1a" stroke-width="1.75" />
<path d="M501.96 1084.93 L567.2 1090.44" fill="none" stroke="#1a1a1a" stroke-width="1.88" />
<path d="M501.24 1123.69 L567.2 1129.2" fill="none" stroke="#1a1a1a" stroke-width="1.88" />
<path d="M501.24 1126.53 L567.56 1132.58" fill="none" stroke="#1a1a1a" stroke-width="1.38" />
<path d="M567.2 1088.31 L567.2 1136.31" fill="none" stroke="#1a1a1a" stroke-width="1.88" />
<path d="M567.2 1129.2 L568.8 1132.22 L568.8 1140.22" fill="none" stroke="#1a1a1a" stroke-width="1.25" />
<path d="M582.67 1063.24 L573.78 1068.22 L571.11 1076.58 L569.87 1076.76" fill="none" stroke="#1a1a1a" stroke-width="1.62" />
<path d="M573.78 1068.22 L580.89 1069.47 L590.67 1064.13" fill="none" stroke="#1a1a1a" stroke-width="1.38" />
<path d="M584.44 1063.24 L584.44 1065.02 L588.89 1065.56 L588.89 1063.96" fill="none" stroke="#1a1a1a" stroke-width="1.25" />
<path d="M571.11 1076.58 L568.8 1082.8 L568.8 1088.67 L573.78 1089.56 L573.78 1083.33" fill="none" stroke="#1a1a1a" stroke-width="1.88" />
<path d="M571.11 1091.33 L571.11 1097.56 L574.67 1098.09 L575.56 1092.22" fill="none" stroke="#1a1a1a" stroke-width="1.38" />
<path d="M580.89 1069.47 L578.22 1083.33 L577.33 1139.33" fill="none" stroke="#1a1a1a" stroke-width="1.62" />
<path d="M588.33 1068.11 A8.5 33 0 0 0 588.33 1134.11" fill="none" stroke="#1a1a1a" stroke-width="1.3" />
<path d="M588.33 1074.11 A6.5 27 0 0 0 588.33 1128.11" fill="none" stroke="#1a1a1a" stroke-width="1" />
<path d="M588.33 1080.61 A4.6 20.5 0 0 0 588.33 1121.61" fill="none" stroke="#1a1a1a" stroke-width="1.2" />
<path d="M590.33 1072.11 A4.5 29 0 0 1 590.33 1130.11" fill="none" stroke="#1a1a1a" stroke-width="1.25" />
<circle cx="588.36" cy="1070" r="1.3" fill="none" stroke="#1a1a1a" stroke-width="1.12" />
<circle cx="585.33" cy="1083.33" r="1.3" fill="none" stroke="#1a1a1a" stroke-width="1.12" />
<circle cx="585.33" cy="1118.89" r="1.3" fill="none" stroke="#1a1a1a" stroke-width="1.12" />
<circle cx="588.36" cy="1132.22" r="1.3" fill="none" stroke="#1a1a1a" stroke-width="1.12" />
<path d="M584.44 1094.36 L607.91 1094.36 Q612.18 1096.13 612.18 1101.47 Q612.18 1106.8 607.91 1108.58 L584.44 1108.58 " fill="#fff" stroke="#1a1a1a" stroke-width="1.62" />
<path d="M607.91 1094.36 Q604.36 1096.84 604.36 1101.47 Q604.36 1106.44 607.91 1108.58 " fill="none" stroke="#1a1a1a" stroke-width="1.12" />
<path d="M607.91 1102 L590.67 1102 Q588.36 1103.6 590.67 1105.38 L607.91 1105.38 " fill="none" stroke="#1a1a1a" stroke-width="1.38" />
<path d="M484.89 1061.11 Q484.89 1056.67 492 1055.42 Q498.22 1055.42 498.22 1059.33 Q497.33 1063.78 490.22 1064.13 Q484.89 1064.13 484.89 1061.11 Z " fill="#fff" stroke="#1a1a1a" stroke-width="1.62" />
<path d="M487.02 1060.58 Q487.56 1057.91 492.36 1057.38 Q496.09 1057.56 495.91 1059.51 Q495.2 1062 490.22 1062.18 Q487.02 1062.18 487.02 1060.58 " fill="none" stroke="#1a1a1a" stroke-width="1.25" />
<path d="M488.44 1061.64 L495.56 1058.44" fill="none" stroke="#1a1a1a" stroke-width="1.12" />
<path d="M512.8 1040.67 C512.59 1042.15 512.5 1047.33 511.56 1049.56 C510.61 1051.78 509.04 1052.52 507.11 1054 C505.19 1055.48 501.19 1057.7 500 1058.44" fill="none" stroke="#1a1a1a" stroke-width="7.2" />
<path d="M512.8 1040.67 C512.59 1042.15 512.5 1047.33 511.56 1049.56 C510.61 1051.78 509.04 1052.52 507.11 1054 C505.19 1055.48 501.19 1057.7 500 1058.44" fill="none" stroke="#fff" stroke-width="4.6" />
<path d="M509.78 1059.33 L513.33 1053.11 L521.33 1052.22 L524.89 1056.67 L523.11 1065.56 L513.33 1068.22 L508.89 1065.56 Z" fill="#fff" stroke="#1a1a1a" stroke-width="1.75" />
<path d="M512.44 1058.44 L520.44 1057.02 L521.33 1064.67 L513.33 1066.44 Z" fill="none" stroke="#1a1a1a" stroke-width="1.38" />
<path d="M514.22 1060.22 L518.67 1059.51 L519.02 1063.78 L514.58 1064.67 Z" fill="none" stroke="#1a1a1a" stroke-width="1.25" />
<path d="M516.53 1056.67 L516.53 1066.44" fill="none" stroke="#1a1a1a" stroke-width="1.12" />
<path d="M524.89 1054.89 L530.22 1053.47 L531.47 1062 L526.13 1063.78 Z" fill="#fff" stroke="#1a1a1a" stroke-width="1.88" />
<path d="M526.13 1054.36 L527.38 1062.71" fill="none" stroke="#1a1a1a" stroke-width="1.88" />
<path d="M527.38 1054.36 L528.62 1062.71" fill="none" stroke="#1a1a1a" stroke-width="1.88" />
<path d="M528.62 1054.36 L529.87 1062.71" fill="none" stroke="#1a1a1a" stroke-width="1.88" />
<path d="M529.87 1054.36 L531.11 1062.71" fill="none" stroke="#1a1a1a" stroke-width="1.88" />
<path d="M531.47 1054.89 L535.56 1054.53 L536.44 1061.64 L531.82 1062.36 Z" fill="#fff" stroke="#1a1a1a" stroke-width="1.38" />
</g>
</svg>
</body></html>
